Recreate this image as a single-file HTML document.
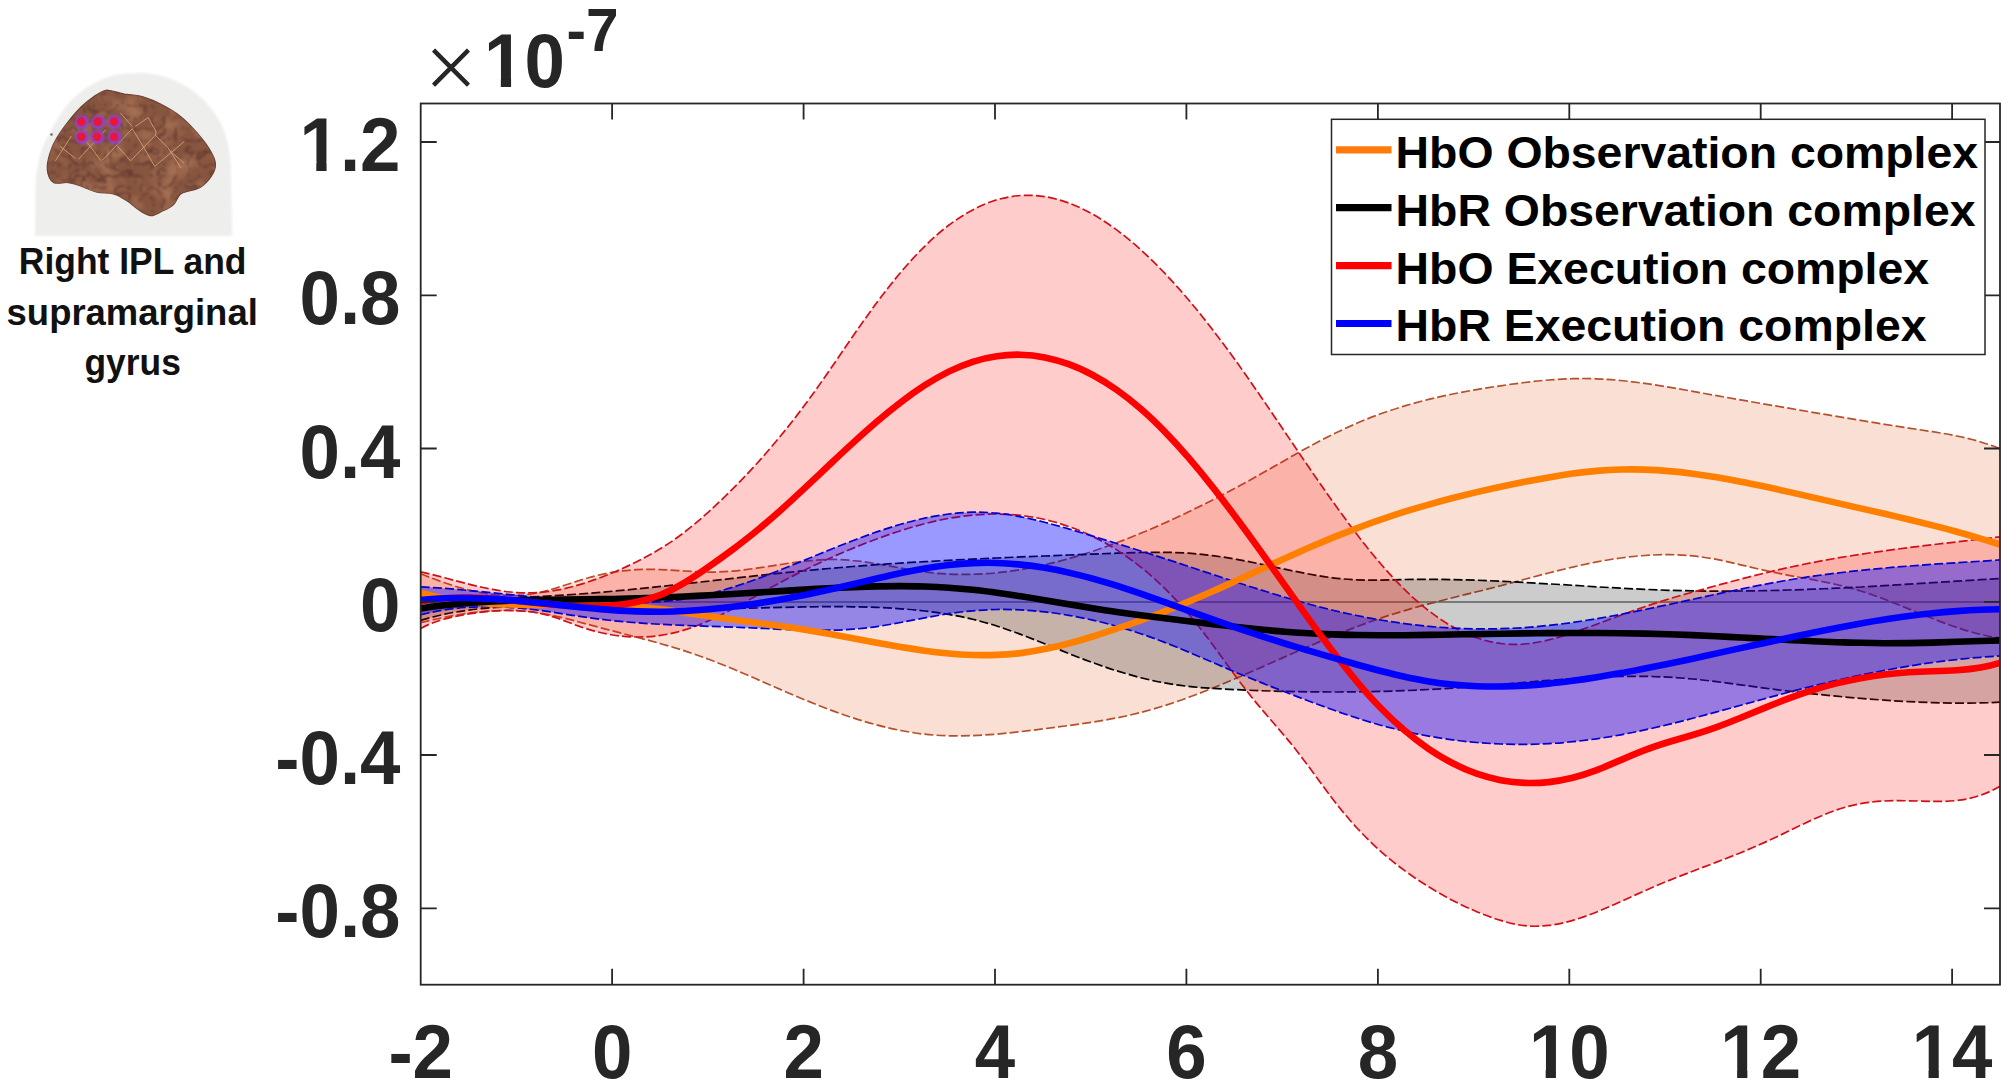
<!DOCTYPE html>
<html lang="en"><head><meta charset="utf-8"><title>Right IPL and supramarginal gyrus</title>
<style>
html,body{margin:0;padding:0;background:#fff;}
body{width:2008px;height:1088px;overflow:hidden;}
svg{display:block;}
text{font-family:"Liberation Sans",sans-serif;}
.tk{font-weight:bold;font-size:75.7px;fill:#262626;}
.lg{font-weight:bold;font-size:45px;fill:#000;}
.cap{font-weight:bold;font-size:36.7px;fill:#111;}
</style></head><body>
<svg width="2008" height="1088" viewBox="0 0 2008 1088">
<rect width="2008" height="1088" fill="#fff"/>
<defs>
<filter id="soft" x="-5%" y="-5%" width="110%" height="110%"><feGaussianBlur stdDeviation="1.3"/></filter>
<filter id="soft2" x="-5%" y="-5%" width="110%" height="110%"><feGaussianBlur stdDeviation="0.7"/></filter>
<filter id="dotb" x="-30%" y="-30%" width="160%" height="160%"><feGaussianBlur stdDeviation="0.9"/></filter>
<filter id="gyri" x="0" y="0" width="100%" height="100%" color-interpolation-filters="sRGB">
<feTurbulence type="turbulence" baseFrequency="0.085" numOctaves="2" seed="11" result="n"/>
<feColorMatrix in="n" type="matrix" values="0 0 0 0 0.35  0 0 0 0 0.2  0 0 0 0 0.17  -5.5 0 0 0 0.95"/>
<feGaussianBlur stdDeviation="0.8"/>
</filter>
<filter id="gyri2" x="0" y="0" width="100%" height="100%" color-interpolation-filters="sRGB">
<feTurbulence type="fractalNoise" baseFrequency="0.05" numOctaves="2" seed="3" result="n"/>
<feColorMatrix in="n" type="matrix" values="0 0 0 0 0.64  0 0 0 0 0.43  0 0 0 0 0.32  3 0 0 0 -1.25"/>
<feGaussianBlur stdDeviation="0.8"/>
</filter>
<clipPath id="bclip"><path id="bshape" d="M106.9 90.1C113 90.5 118 93 124.6 94.1C131 95 136 95 142.2 96.5C149 98.5 155 101 161.5 104.6C168 108 175 112 180.8 116.6C187 121.5 192 127 196.9 132.7C201 137.5 205 142 208.2 147.2C211.5 152.5 215 158 215.4 163.3C215.8 168 214 172.5 211.4 176.2C208.5 180.5 205 184.5 200.1 187.4C194.5 190.5 186 191 180.8 193.9C177.5 196.5 177 200.5 174.4 203.5C171 207.5 166 209.5 161.5 211.5C158 213.3 154 216.2 150.3 215.6C146 214.8 142.5 212.5 139 210C134.5 206.8 130.5 203 126.2 200.3C122 197.6 118 195 113.3 193.9C108 192.7 102.5 193.3 97.2 192.2C92.5 191.2 88.5 189 84.3 187.4C79 185.4 73.5 183.2 68.3 182.6C63.5 182 58 184.5 53.8 182.6C49.5 180.3 47.8 174.5 47.3 169.7C46.8 164.5 48.2 158.8 49.8 153.6C51.5 148 54 142.5 57 137.6C60.3 132 64.3 126.6 68.3 121.5C72.3 116.5 76.5 111.5 81.1 107C85 103.2 89.5 99.5 94 96.5C98 94 102.5 90.5 106.9 90.1Z"/></clipPath>
</defs>
<g id="brain">
<path d="M35 236L35.5 190C35.8 178 36.5 172 37.7 166.5C40 153 44 143 49 134.3C53 126 57.5 118 63.4 110C69.5 101.5 76 95 84.3 89.3C92 84 100 79.5 110 76.4C118 74 125 73.2 132.6 73.2C138 73 143 73 148 73.2C157 74.5 165 76.5 172.8 79.7C182 83.5 190 88 197 94C205.5 101 212 109 217.8 118C222.5 126 225.5 134 227.5 142.4C229.5 150 230.3 158 230.7 166.5L232.3 236Z" fill="#eeeeec" filter="url(#soft)"/>
<g filter="url(#soft2)">
<use href="#bshape" fill="#87553f" stroke="#6b4336" stroke-width="1.2"/>
<g clip-path="url(#bclip)">
<rect x="40" y="85" width="185" height="135" filter="url(#gyri2)"/>
<rect x="40" y="85" width="185" height="135" filter="url(#gyri)"/>
<g stroke="#e0a982" stroke-width="0.9" fill="none" opacity="0.85">
<path d="M55.4 160.8L71.4 136M78.6 159.2L105.8 129.6M102.6 160L132.2 128.8M130.6 160.8L155.4 135.2M154.6 166.4L184.2 141.6M135.4 126.4L148.2 117.6"/>
<path d="M60.2 146.4L75.4 158.4M86.6 141.6L101 160.8M120.2 112.8L132.2 126.4M117 145.6L130.6 160.8M132.2 128.8L144.2 148L154.6 166.4M148.2 117.6L156.2 132L155.4 135.2L168.2 148L181 168M170 151L184 163"/>
</g>
</g>
<g fill="#9040d0" opacity="0.95" filter="url(#dotb)"><circle cx="82" cy="122" r="6.9"/><circle cx="98.2" cy="122" r="6.9"/><circle cx="114.6" cy="122" r="6.9"/><circle cx="82" cy="137.2" r="6.9"/><circle cx="97.4" cy="137.2" r="6.9"/><circle cx="114.6" cy="137.2" r="6.9"/></g>
<g fill="#e8153a" filter="url(#soft2)"><circle cx="81.4" cy="121.6" r="4.3"/><circle cx="97.8" cy="121.6" r="4.3"/><circle cx="114.2" cy="121.6" r="4.3"/><circle cx="81.4" cy="136.8" r="4.3"/><circle cx="97" cy="136.8" r="4.3"/><circle cx="114.2" cy="136.8" r="4.3"/></g>
<circle cx="51.5" cy="134.5" r="1.2" fill="#667"/>
</g>
</g>
<defs><clipPath id="ax"><rect x="420.7" y="103.5" width="1579.3" height="881.2"/></clipPath></defs>
<g clip-path="url(#ax)">
<line x1="420.7" y1="602" x2="2000.0" y2="602" stroke="#333" stroke-width="1.2"/>
<path d="M420.7 573.7C428.7 577.0 436.7 580.1 444.7 582.8C452.7 585.6 460.7 588.0 468.7 590.0C476.7 592.0 484.7 593.6 492.7 594.5C500.7 595.5 508.7 595.9 516.7 595.5C524.7 595.2 532.7 594.1 540.7 592.3C548.7 590.4 556.7 587.9 564.7 585.3C572.7 582.7 580.7 580.0 588.7 577.7C596.7 575.4 604.7 573.5 612.7 572.2C620.7 570.9 628.7 570.1 636.7 569.7C644.7 569.3 652.7 569.3 660.7 569.6C668.7 569.9 676.7 570.5 684.7 571.0C692.7 571.6 700.7 572.0 708.7 572.1C716.7 572.2 724.7 571.8 732.7 571.1C740.7 570.4 748.7 569.3 756.7 568.2C764.7 567.0 772.7 565.7 780.7 564.5C788.7 563.2 796.7 562.1 804.7 561.2C812.7 560.3 820.7 559.7 828.7 559.5C836.7 559.3 844.7 559.7 852.7 560.5C860.7 561.2 868.7 562.4 876.7 563.8C884.7 565.1 892.7 566.6 900.7 568.1C908.7 569.5 916.7 570.9 924.7 571.9C932.7 573.0 940.7 573.7 948.7 574.1C956.7 574.5 964.7 574.6 972.7 574.3C980.7 574.1 988.7 573.6 996.7 572.8C1004.7 572.0 1012.7 570.9 1020.7 569.6C1028.7 568.2 1036.7 566.6 1044.7 564.8C1052.7 563.0 1060.7 560.9 1068.7 558.7C1076.7 556.4 1084.7 554.0 1092.7 551.3C1100.7 548.6 1108.7 545.8 1116.7 542.8C1124.7 539.8 1132.7 536.6 1140.7 533.3C1148.7 530.0 1156.7 526.6 1164.7 523.0C1172.7 519.4 1180.7 515.7 1188.7 511.8C1196.7 508.0 1204.7 504.0 1212.7 499.9C1220.7 495.9 1228.7 491.7 1236.7 487.4C1244.7 483.1 1252.7 478.6 1260.7 474.1C1268.7 469.6 1276.7 465.0 1284.7 460.4C1292.7 455.8 1300.7 451.3 1308.7 446.9C1316.7 442.5 1324.7 438.3 1332.7 434.4C1340.7 430.5 1348.7 426.8 1356.7 423.3C1364.7 419.9 1372.7 416.7 1380.7 413.8C1388.7 410.9 1396.7 408.3 1404.7 405.9C1412.7 403.5 1420.7 401.4 1428.7 399.4C1436.7 397.4 1444.7 395.7 1452.7 394.0C1460.7 392.4 1468.7 390.9 1476.7 389.6C1484.7 388.2 1492.7 386.9 1500.7 385.8C1508.7 384.6 1516.7 383.4 1524.7 382.5C1532.7 381.5 1540.7 380.6 1548.7 380.0C1556.7 379.3 1564.7 378.9 1572.7 378.7C1580.7 378.4 1588.7 378.5 1596.7 378.8C1604.7 379.1 1612.7 379.7 1620.7 380.5C1628.7 381.3 1636.7 382.3 1644.7 383.4C1652.7 384.5 1660.7 385.8 1668.7 387.1C1676.7 388.5 1684.7 389.9 1692.7 391.3C1700.7 392.8 1708.7 394.2 1716.7 395.7C1724.7 397.1 1732.7 398.5 1740.7 399.9C1748.7 401.3 1756.7 402.7 1764.7 404.1C1772.7 405.4 1780.7 406.8 1788.7 408.2C1796.7 409.6 1804.7 410.9 1812.7 412.3C1820.7 413.7 1828.7 415.0 1836.7 416.4C1844.7 417.7 1852.7 419.1 1860.7 420.4C1868.7 421.7 1876.7 423.0 1884.7 424.3C1892.7 425.6 1900.7 426.8 1908.7 428.1C1916.7 429.3 1924.7 430.5 1932.7 431.7C1940.7 433.0 1948.7 434.3 1956.7 436.0C1964.7 437.6 1972.7 439.5 1980.7 442.0C1987.1 443.9 1993.6 446.1 2000.0 448.8L2000.0 638.1C1993.6 637.2 1987.1 636.0 1980.7 634.4C1972.7 632.5 1964.7 630.1 1956.7 627.4C1948.7 624.7 1940.7 621.7 1932.7 618.5C1924.7 615.4 1916.7 612.1 1908.7 608.9C1900.7 605.6 1892.7 602.4 1884.7 599.3C1876.7 596.3 1868.7 593.5 1860.7 591.0C1852.7 588.5 1844.7 586.4 1836.7 584.6C1828.7 582.8 1820.7 581.2 1812.7 579.7C1804.7 578.2 1796.7 576.8 1788.7 575.3C1780.7 573.8 1772.7 572.2 1764.7 570.4C1756.7 568.7 1748.7 566.7 1740.7 564.8C1732.7 562.8 1724.7 561.0 1716.7 559.4C1708.7 557.9 1700.7 556.7 1692.7 555.9C1684.7 555.1 1676.7 554.7 1668.7 554.7C1660.7 554.6 1652.7 554.9 1644.7 555.5C1636.7 556.0 1628.7 556.9 1620.7 558.0C1612.7 559.1 1604.7 560.4 1596.7 561.9C1588.7 563.5 1580.7 565.2 1572.7 567.1C1564.7 568.9 1556.7 570.9 1548.7 573.0C1540.7 575.0 1532.7 577.2 1524.7 579.3C1516.7 581.4 1508.7 583.6 1500.7 585.7C1492.7 587.8 1484.7 589.8 1476.7 591.8C1468.7 593.8 1460.7 595.7 1452.7 597.7C1444.7 599.7 1436.7 601.8 1428.7 603.9C1420.7 606.0 1412.7 608.2 1404.7 610.6C1396.7 612.9 1388.7 615.4 1380.7 618.1C1372.7 620.8 1364.7 623.7 1356.7 626.7C1348.7 629.7 1340.7 632.9 1332.7 636.2C1324.7 639.5 1316.7 642.9 1308.7 646.4C1300.7 649.9 1292.7 653.4 1284.7 656.9C1276.7 660.5 1268.7 664.0 1260.7 667.6C1252.7 671.1 1244.7 674.6 1236.7 678.0C1228.7 681.5 1220.7 684.8 1212.7 688.1C1204.7 691.3 1196.7 694.4 1188.7 697.3C1180.7 700.3 1172.7 703.0 1164.7 705.6C1156.7 708.1 1148.7 710.4 1140.7 712.5C1132.7 714.5 1124.7 716.3 1116.7 717.9C1108.7 719.5 1100.7 720.8 1092.7 722.1C1084.7 723.3 1076.7 724.5 1068.7 725.5C1060.7 726.6 1052.7 727.6 1044.7 728.7C1036.7 729.7 1028.7 730.7 1020.7 731.6C1012.7 732.6 1004.7 733.4 996.7 734.1C988.7 734.8 980.7 735.3 972.7 735.6C964.7 735.9 956.7 736.0 948.7 735.8C940.7 735.6 932.7 735.1 924.7 734.2C916.7 733.3 908.7 732.0 900.7 730.5C892.7 728.9 884.7 727.1 876.7 724.9C868.7 722.8 860.7 720.4 852.7 717.8C844.7 715.2 836.7 712.4 828.7 709.3C820.7 706.3 812.7 703.1 804.7 699.8C796.7 696.5 788.7 693.1 780.7 689.6C772.7 686.1 764.7 682.6 756.7 679.1C748.7 675.6 740.7 672.1 732.7 668.8C724.7 665.5 716.7 662.3 708.7 659.3C700.7 656.3 692.7 653.5 684.7 650.9C676.7 648.3 668.7 645.9 660.7 643.7C652.7 641.4 644.7 639.3 636.7 637.2C628.7 635.1 620.7 633.0 612.7 630.9C604.7 628.9 596.7 626.7 588.7 624.6C580.7 622.4 572.7 620.2 564.7 618.2C556.7 616.3 548.7 614.5 540.7 613.2C532.7 611.9 524.7 611.1 516.7 610.7C508.7 610.3 500.7 610.4 492.7 610.9C484.7 611.3 476.7 612.1 468.7 613.2C460.7 614.3 452.7 615.7 444.7 617.3C436.7 618.9 428.7 620.7 420.7 622.6Z" fill="rgb(225,95,40)" fill-opacity="0.2" stroke="none"/>
<path d="M420.7 573.7C428.7 577.0 436.7 580.1 444.7 582.8C452.7 585.6 460.7 588.0 468.7 590.0C476.7 592.0 484.7 593.6 492.7 594.5C500.7 595.5 508.7 595.9 516.7 595.5C524.7 595.2 532.7 594.1 540.7 592.3C548.7 590.4 556.7 587.9 564.7 585.3C572.7 582.7 580.7 580.0 588.7 577.7C596.7 575.4 604.7 573.5 612.7 572.2C620.7 570.9 628.7 570.1 636.7 569.7C644.7 569.3 652.7 569.3 660.7 569.6C668.7 569.9 676.7 570.5 684.7 571.0C692.7 571.6 700.7 572.0 708.7 572.1C716.7 572.2 724.7 571.8 732.7 571.1C740.7 570.4 748.7 569.3 756.7 568.2C764.7 567.0 772.7 565.7 780.7 564.5C788.7 563.2 796.7 562.1 804.7 561.2C812.7 560.3 820.7 559.7 828.7 559.5C836.7 559.3 844.7 559.7 852.7 560.5C860.7 561.2 868.7 562.4 876.7 563.8C884.7 565.1 892.7 566.6 900.7 568.1C908.7 569.5 916.7 570.9 924.7 571.9C932.7 573.0 940.7 573.7 948.7 574.1C956.7 574.5 964.7 574.6 972.7 574.3C980.7 574.1 988.7 573.6 996.7 572.8C1004.7 572.0 1012.7 570.9 1020.7 569.6C1028.7 568.2 1036.7 566.6 1044.7 564.8C1052.7 563.0 1060.7 560.9 1068.7 558.7C1076.7 556.4 1084.7 554.0 1092.7 551.3C1100.7 548.6 1108.7 545.8 1116.7 542.8C1124.7 539.8 1132.7 536.6 1140.7 533.3C1148.7 530.0 1156.7 526.6 1164.7 523.0C1172.7 519.4 1180.7 515.7 1188.7 511.8C1196.7 508.0 1204.7 504.0 1212.7 499.9C1220.7 495.9 1228.7 491.7 1236.7 487.4C1244.7 483.1 1252.7 478.6 1260.7 474.1C1268.7 469.6 1276.7 465.0 1284.7 460.4C1292.7 455.8 1300.7 451.3 1308.7 446.9C1316.7 442.5 1324.7 438.3 1332.7 434.4C1340.7 430.5 1348.7 426.8 1356.7 423.3C1364.7 419.9 1372.7 416.7 1380.7 413.8C1388.7 410.9 1396.7 408.3 1404.7 405.9C1412.7 403.5 1420.7 401.4 1428.7 399.4C1436.7 397.4 1444.7 395.7 1452.7 394.0C1460.7 392.4 1468.7 390.9 1476.7 389.6C1484.7 388.2 1492.7 386.9 1500.7 385.8C1508.7 384.6 1516.7 383.4 1524.7 382.5C1532.7 381.5 1540.7 380.6 1548.7 380.0C1556.7 379.3 1564.7 378.9 1572.7 378.7C1580.7 378.4 1588.7 378.5 1596.7 378.8C1604.7 379.1 1612.7 379.7 1620.7 380.5C1628.7 381.3 1636.7 382.3 1644.7 383.4C1652.7 384.5 1660.7 385.8 1668.7 387.1C1676.7 388.5 1684.7 389.9 1692.7 391.3C1700.7 392.8 1708.7 394.2 1716.7 395.7C1724.7 397.1 1732.7 398.5 1740.7 399.9C1748.7 401.3 1756.7 402.7 1764.7 404.1C1772.7 405.4 1780.7 406.8 1788.7 408.2C1796.7 409.6 1804.7 410.9 1812.7 412.3C1820.7 413.7 1828.7 415.0 1836.7 416.4C1844.7 417.7 1852.7 419.1 1860.7 420.4C1868.7 421.7 1876.7 423.0 1884.7 424.3C1892.7 425.6 1900.7 426.8 1908.7 428.1C1916.7 429.3 1924.7 430.5 1932.7 431.7C1940.7 433.0 1948.7 434.3 1956.7 436.0C1964.7 437.6 1972.7 439.5 1980.7 442.0C1987.1 443.9 1993.6 446.1 2000.0 448.8" fill="none" stroke="#b5502d" stroke-width="1.7" stroke-dasharray="9 3.2"/>
<path d="M420.7 622.6C428.7 620.7 436.7 618.9 444.7 617.3C452.7 615.7 460.7 614.3 468.7 613.2C476.7 612.1 484.7 611.3 492.7 610.9C500.7 610.4 508.7 610.3 516.7 610.7C524.7 611.1 532.7 611.9 540.7 613.2C548.7 614.5 556.7 616.3 564.7 618.2C572.7 620.2 580.7 622.4 588.7 624.6C596.7 626.7 604.7 628.9 612.7 630.9C620.7 633.0 628.7 635.1 636.7 637.2C644.7 639.3 652.7 641.4 660.7 643.7C668.7 645.9 676.7 648.3 684.7 650.9C692.7 653.5 700.7 656.3 708.7 659.3C716.7 662.3 724.7 665.5 732.7 668.8C740.7 672.1 748.7 675.6 756.7 679.1C764.7 682.6 772.7 686.1 780.7 689.6C788.7 693.1 796.7 696.5 804.7 699.8C812.7 703.1 820.7 706.3 828.7 709.3C836.7 712.4 844.7 715.2 852.7 717.8C860.7 720.4 868.7 722.8 876.7 724.9C884.7 727.1 892.7 728.9 900.7 730.5C908.7 732.0 916.7 733.3 924.7 734.2C932.7 735.1 940.7 735.6 948.7 735.8C956.7 736.0 964.7 735.9 972.7 735.6C980.7 735.3 988.7 734.8 996.7 734.1C1004.7 733.4 1012.7 732.6 1020.7 731.6C1028.7 730.7 1036.7 729.7 1044.7 728.7C1052.7 727.6 1060.7 726.6 1068.7 725.5C1076.7 724.5 1084.7 723.3 1092.7 722.1C1100.7 720.8 1108.7 719.5 1116.7 717.9C1124.7 716.3 1132.7 714.5 1140.7 712.5C1148.7 710.4 1156.7 708.1 1164.7 705.6C1172.7 703.0 1180.7 700.3 1188.7 697.3C1196.7 694.4 1204.7 691.3 1212.7 688.1C1220.7 684.8 1228.7 681.5 1236.7 678.0C1244.7 674.6 1252.7 671.1 1260.7 667.6C1268.7 664.0 1276.7 660.5 1284.7 656.9C1292.7 653.4 1300.7 649.9 1308.7 646.4C1316.7 642.9 1324.7 639.5 1332.7 636.2C1340.7 632.9 1348.7 629.7 1356.7 626.7C1364.7 623.7 1372.7 620.8 1380.7 618.1C1388.7 615.4 1396.7 612.9 1404.7 610.6C1412.7 608.2 1420.7 606.0 1428.7 603.9C1436.7 601.8 1444.7 599.7 1452.7 597.7C1460.7 595.7 1468.7 593.8 1476.7 591.8C1484.7 589.8 1492.7 587.8 1500.7 585.7C1508.7 583.6 1516.7 581.4 1524.7 579.3C1532.7 577.2 1540.7 575.0 1548.7 573.0C1556.7 570.9 1564.7 568.9 1572.7 567.1C1580.7 565.2 1588.7 563.5 1596.7 561.9C1604.7 560.4 1612.7 559.1 1620.7 558.0C1628.7 556.9 1636.7 556.0 1644.7 555.5C1652.7 554.9 1660.7 554.6 1668.7 554.7C1676.7 554.7 1684.7 555.1 1692.7 555.9C1700.7 556.7 1708.7 557.9 1716.7 559.4C1724.7 561.0 1732.7 562.8 1740.7 564.8C1748.7 566.7 1756.7 568.7 1764.7 570.4C1772.7 572.2 1780.7 573.8 1788.7 575.3C1796.7 576.8 1804.7 578.2 1812.7 579.7C1820.7 581.2 1828.7 582.8 1836.7 584.6C1844.7 586.4 1852.7 588.5 1860.7 591.0C1868.7 593.5 1876.7 596.3 1884.7 599.3C1892.7 602.4 1900.7 605.6 1908.7 608.9C1916.7 612.1 1924.7 615.4 1932.7 618.5C1940.7 621.7 1948.7 624.7 1956.7 627.4C1964.7 630.1 1972.7 632.5 1980.7 634.4C1987.1 636.0 1993.6 637.2 2000.0 638.1" fill="none" stroke="#b5502d" stroke-width="1.7" stroke-dasharray="9 3.2"/>
<path d="M420.7 596.1C428.7 596.6 436.7 597.0 444.7 597.4C452.7 597.7 460.7 597.9 468.7 598.0C476.7 598.1 484.7 598.1 492.7 598.0C500.7 597.9 508.7 597.7 516.7 597.5C524.7 597.2 532.7 596.9 540.7 596.5C548.7 596.1 556.7 595.6 564.7 595.1C572.7 594.5 580.7 593.9 588.7 593.3C596.7 592.7 604.7 592.0 612.7 591.2C620.7 590.5 628.7 589.7 636.7 588.9C644.7 588.1 652.7 587.3 660.7 586.4C668.7 585.6 676.7 584.7 684.7 583.8C692.7 582.9 700.7 582.0 708.7 581.1C716.7 580.2 724.7 579.3 732.7 578.4C740.7 577.5 748.7 576.6 756.7 575.7C764.7 574.8 772.7 574.0 780.7 573.1C788.7 572.3 796.7 571.5 804.7 570.7C812.7 570.0 820.7 569.2 828.7 568.5C836.7 567.8 844.7 567.2 852.7 566.5C860.7 565.9 868.7 565.3 876.7 564.7C884.7 564.2 892.7 563.6 900.7 563.1C908.7 562.6 916.7 562.1 924.7 561.7C932.7 561.2 940.7 560.7 948.7 560.3C956.7 559.9 964.7 559.5 972.7 559.1C980.7 558.7 988.7 558.3 996.7 558.0C1004.7 557.6 1012.7 557.3 1020.7 556.9C1028.7 556.6 1036.7 556.3 1044.7 556.0C1052.7 555.7 1060.7 555.3 1068.7 555.0C1076.7 554.7 1084.7 554.4 1092.7 554.1C1100.7 553.8 1108.7 553.5 1116.7 553.2C1124.7 552.9 1132.7 552.7 1140.7 552.5C1148.7 552.3 1156.7 552.3 1164.7 552.3C1172.7 552.4 1180.7 552.7 1188.7 553.2C1196.7 553.8 1204.7 554.6 1212.7 555.6C1220.7 556.7 1228.7 557.9 1236.7 559.4C1244.7 560.8 1252.7 562.4 1260.7 564.1C1268.7 565.8 1276.7 567.5 1284.7 569.2C1292.7 570.9 1300.7 572.5 1308.7 574.0C1316.7 575.5 1324.7 576.8 1332.7 577.8C1340.7 578.8 1348.7 579.5 1356.7 579.8C1364.7 580.1 1372.7 580.2 1380.7 580.1C1388.7 579.9 1396.7 579.7 1404.7 579.5C1412.7 579.4 1420.7 579.3 1428.7 579.3C1436.7 579.3 1444.7 579.4 1452.7 579.6C1460.7 579.7 1468.7 580.0 1476.7 580.2C1484.7 580.5 1492.7 580.9 1500.7 581.2C1508.7 581.6 1516.7 582.0 1524.7 582.5C1532.7 582.9 1540.7 583.4 1548.7 583.9C1556.7 584.3 1564.7 584.8 1572.7 585.3C1580.7 585.8 1588.7 586.3 1596.7 586.8C1604.7 587.3 1612.7 587.7 1620.7 588.2C1628.7 588.6 1636.7 589.0 1644.7 589.3C1652.7 589.7 1660.7 590.0 1668.7 590.3C1676.7 590.5 1684.7 590.7 1692.7 590.8C1700.7 591.0 1708.7 591.1 1716.7 591.1C1724.7 591.1 1732.7 591.1 1740.7 591.0C1748.7 590.9 1756.7 590.8 1764.7 590.6C1772.7 590.5 1780.7 590.3 1788.7 590.0C1796.7 589.8 1804.7 589.5 1812.7 589.2C1820.7 588.9 1828.7 588.5 1836.7 588.2C1844.7 587.8 1852.7 587.4 1860.7 587.0C1868.7 586.5 1876.7 586.1 1884.7 585.6C1892.7 585.2 1900.7 584.7 1908.7 584.2C1916.7 583.7 1924.7 583.2 1932.7 582.7C1940.7 582.2 1948.7 581.7 1956.7 581.2C1964.7 580.7 1972.7 580.2 1980.7 579.7C1987.1 579.3 1993.6 578.9 2000.0 578.5L2000.0 702.2C1993.6 702.6 1987.1 702.8 1980.7 702.9C1972.7 703.1 1964.7 703.1 1956.7 703.1C1948.7 703.0 1940.7 702.9 1932.7 702.6C1924.7 702.4 1916.7 702.0 1908.7 701.6C1900.7 701.2 1892.7 700.7 1884.7 700.2C1876.7 699.6 1868.7 699.0 1860.7 698.3C1852.7 697.7 1844.7 697.0 1836.7 696.2C1828.7 695.5 1820.7 694.7 1812.7 693.8C1804.7 693.0 1796.7 692.1 1788.7 691.1C1780.7 690.2 1772.7 689.2 1764.7 688.1C1756.7 687.1 1748.7 686.0 1740.7 684.9C1732.7 683.8 1724.7 682.7 1716.7 681.7C1708.7 680.7 1700.7 679.8 1692.7 679.0C1684.7 678.2 1676.7 677.6 1668.7 677.2C1660.7 676.7 1652.7 676.5 1644.7 676.4C1636.7 676.3 1628.7 676.3 1620.7 676.5C1612.7 676.6 1604.7 676.9 1596.7 677.3C1588.7 677.6 1580.7 678.1 1572.7 678.6C1564.7 679.2 1556.7 679.8 1548.7 680.4C1540.7 681.0 1532.7 681.7 1524.7 682.4C1516.7 683.1 1508.7 683.8 1500.7 684.5C1492.7 685.2 1484.7 685.8 1476.7 686.4C1468.7 687.1 1460.7 687.6 1452.7 688.2C1444.7 688.7 1436.7 689.1 1428.7 689.5C1420.7 689.9 1412.7 690.3 1404.7 690.6C1396.7 690.9 1388.7 691.2 1380.7 691.4C1372.7 691.6 1364.7 691.7 1356.7 691.8C1348.7 691.9 1340.7 692.0 1332.7 692.0C1324.7 692.0 1316.7 691.9 1308.7 691.8C1300.7 691.7 1292.7 691.6 1284.7 691.4C1276.7 691.2 1268.7 691.0 1260.7 690.7C1252.7 690.4 1244.7 690.1 1236.7 689.7C1228.7 689.3 1220.7 688.9 1212.7 688.4C1204.7 687.9 1196.7 687.3 1188.7 686.4C1180.7 685.5 1172.7 684.4 1164.7 682.9C1156.7 681.5 1148.7 679.7 1140.7 677.7C1132.7 675.6 1124.7 673.3 1116.7 670.8C1108.7 668.3 1100.7 665.6 1092.7 662.6C1084.7 659.7 1076.7 656.7 1068.7 653.5C1060.7 650.3 1052.7 647.0 1044.7 643.8C1036.7 640.6 1028.7 637.4 1020.7 634.4C1012.7 631.4 1004.7 628.5 996.7 626.0C988.7 623.4 980.7 621.2 972.7 619.3C964.7 617.3 956.7 615.7 948.7 614.4C940.7 613.0 932.7 611.9 924.7 611.0C916.7 610.1 908.7 609.3 900.7 608.8C892.7 608.2 884.7 607.7 876.7 607.4C868.7 607.1 860.7 606.9 852.7 606.8C844.7 606.7 836.7 606.6 828.7 606.7C820.7 606.7 812.7 606.8 804.7 606.9C796.7 607.1 788.7 607.3 780.7 607.4C772.7 607.6 764.7 607.8 756.7 608.0C748.7 608.2 740.7 608.3 732.7 608.5C724.7 608.6 716.7 608.7 708.7 608.8C700.7 608.9 692.7 609.0 684.7 609.0C676.7 609.0 668.7 609.0 660.7 609.0C652.7 608.9 644.7 608.8 636.7 608.7C628.7 608.6 620.7 608.5 612.7 608.3C604.7 608.1 596.7 607.9 588.7 607.6C580.7 607.3 572.7 607.1 564.7 606.9C556.7 606.6 548.7 606.4 540.7 606.4C532.7 606.3 524.7 606.3 516.7 606.5C508.7 606.7 500.7 607.1 492.7 607.6C484.7 608.2 476.7 609.0 468.7 610.1C460.7 611.2 452.7 612.5 444.7 614.2C436.7 615.9 428.7 618.0 420.7 620.4Z" fill="#000" fill-opacity="0.2" stroke="none"/>
<path d="M420.7 596.1C428.7 596.6 436.7 597.0 444.7 597.4C452.7 597.7 460.7 597.9 468.7 598.0C476.7 598.1 484.7 598.1 492.7 598.0C500.7 597.9 508.7 597.7 516.7 597.5C524.7 597.2 532.7 596.9 540.7 596.5C548.7 596.1 556.7 595.6 564.7 595.1C572.7 594.5 580.7 593.9 588.7 593.3C596.7 592.7 604.7 592.0 612.7 591.2C620.7 590.5 628.7 589.7 636.7 588.9C644.7 588.1 652.7 587.3 660.7 586.4C668.7 585.6 676.7 584.7 684.7 583.8C692.7 582.9 700.7 582.0 708.7 581.1C716.7 580.2 724.7 579.3 732.7 578.4C740.7 577.5 748.7 576.6 756.7 575.7C764.7 574.8 772.7 574.0 780.7 573.1C788.7 572.3 796.7 571.5 804.7 570.7C812.7 570.0 820.7 569.2 828.7 568.5C836.7 567.8 844.7 567.2 852.7 566.5C860.7 565.9 868.7 565.3 876.7 564.7C884.7 564.2 892.7 563.6 900.7 563.1C908.7 562.6 916.7 562.1 924.7 561.7C932.7 561.2 940.7 560.7 948.7 560.3C956.7 559.9 964.7 559.5 972.7 559.1C980.7 558.7 988.7 558.3 996.7 558.0C1004.7 557.6 1012.7 557.3 1020.7 556.9C1028.7 556.6 1036.7 556.3 1044.7 556.0C1052.7 555.7 1060.7 555.3 1068.7 555.0C1076.7 554.7 1084.7 554.4 1092.7 554.1C1100.7 553.8 1108.7 553.5 1116.7 553.2C1124.7 552.9 1132.7 552.7 1140.7 552.5C1148.7 552.3 1156.7 552.3 1164.7 552.3C1172.7 552.4 1180.7 552.7 1188.7 553.2C1196.7 553.8 1204.7 554.6 1212.7 555.6C1220.7 556.7 1228.7 557.9 1236.7 559.4C1244.7 560.8 1252.7 562.4 1260.7 564.1C1268.7 565.8 1276.7 567.5 1284.7 569.2C1292.7 570.9 1300.7 572.5 1308.7 574.0C1316.7 575.5 1324.7 576.8 1332.7 577.8C1340.7 578.8 1348.7 579.5 1356.7 579.8C1364.7 580.1 1372.7 580.2 1380.7 580.1C1388.7 579.9 1396.7 579.7 1404.7 579.5C1412.7 579.4 1420.7 579.3 1428.7 579.3C1436.7 579.3 1444.7 579.4 1452.7 579.6C1460.7 579.7 1468.7 580.0 1476.7 580.2C1484.7 580.5 1492.7 580.9 1500.7 581.2C1508.7 581.6 1516.7 582.0 1524.7 582.5C1532.7 582.9 1540.7 583.4 1548.7 583.9C1556.7 584.3 1564.7 584.8 1572.7 585.3C1580.7 585.8 1588.7 586.3 1596.7 586.8C1604.7 587.3 1612.7 587.7 1620.7 588.2C1628.7 588.6 1636.7 589.0 1644.7 589.3C1652.7 589.7 1660.7 590.0 1668.7 590.3C1676.7 590.5 1684.7 590.7 1692.7 590.8C1700.7 591.0 1708.7 591.1 1716.7 591.1C1724.7 591.1 1732.7 591.1 1740.7 591.0C1748.7 590.9 1756.7 590.8 1764.7 590.6C1772.7 590.5 1780.7 590.3 1788.7 590.0C1796.7 589.8 1804.7 589.5 1812.7 589.2C1820.7 588.9 1828.7 588.5 1836.7 588.2C1844.7 587.8 1852.7 587.4 1860.7 587.0C1868.7 586.5 1876.7 586.1 1884.7 585.6C1892.7 585.2 1900.7 584.7 1908.7 584.2C1916.7 583.7 1924.7 583.2 1932.7 582.7C1940.7 582.2 1948.7 581.7 1956.7 581.2C1964.7 580.7 1972.7 580.2 1980.7 579.7C1987.1 579.3 1993.6 578.9 2000.0 578.5" fill="none" stroke="#000" stroke-width="1.7" stroke-dasharray="9 3.2"/>
<path d="M420.7 620.4C428.7 618.0 436.7 615.9 444.7 614.2C452.7 612.5 460.7 611.2 468.7 610.1C476.7 609.0 484.7 608.2 492.7 607.6C500.7 607.1 508.7 606.7 516.7 606.5C524.7 606.3 532.7 606.3 540.7 606.4C548.7 606.4 556.7 606.6 564.7 606.9C572.7 607.1 580.7 607.3 588.7 607.6C596.7 607.9 604.7 608.1 612.7 608.3C620.7 608.5 628.7 608.6 636.7 608.7C644.7 608.8 652.7 608.9 660.7 609.0C668.7 609.0 676.7 609.0 684.7 609.0C692.7 609.0 700.7 608.9 708.7 608.8C716.7 608.7 724.7 608.6 732.7 608.5C740.7 608.3 748.7 608.2 756.7 608.0C764.7 607.8 772.7 607.6 780.7 607.4C788.7 607.3 796.7 607.1 804.7 606.9C812.7 606.8 820.7 606.7 828.7 606.7C836.7 606.6 844.7 606.7 852.7 606.8C860.7 606.9 868.7 607.1 876.7 607.4C884.7 607.7 892.7 608.2 900.7 608.8C908.7 609.3 916.7 610.1 924.7 611.0C932.7 611.9 940.7 613.0 948.7 614.4C956.7 615.7 964.7 617.3 972.7 619.3C980.7 621.2 988.7 623.4 996.7 626.0C1004.7 628.5 1012.7 631.4 1020.7 634.4C1028.7 637.4 1036.7 640.6 1044.7 643.8C1052.7 647.0 1060.7 650.3 1068.7 653.5C1076.7 656.7 1084.7 659.7 1092.7 662.6C1100.7 665.6 1108.7 668.3 1116.7 670.8C1124.7 673.3 1132.7 675.6 1140.7 677.7C1148.7 679.7 1156.7 681.5 1164.7 682.9C1172.7 684.4 1180.7 685.5 1188.7 686.4C1196.7 687.3 1204.7 687.9 1212.7 688.4C1220.7 688.9 1228.7 689.3 1236.7 689.7C1244.7 690.1 1252.7 690.4 1260.7 690.7C1268.7 691.0 1276.7 691.2 1284.7 691.4C1292.7 691.6 1300.7 691.7 1308.7 691.8C1316.7 691.9 1324.7 692.0 1332.7 692.0C1340.7 692.0 1348.7 691.9 1356.7 691.8C1364.7 691.7 1372.7 691.6 1380.7 691.4C1388.7 691.2 1396.7 690.9 1404.7 690.6C1412.7 690.3 1420.7 689.9 1428.7 689.5C1436.7 689.1 1444.7 688.7 1452.7 688.2C1460.7 687.6 1468.7 687.1 1476.7 686.4C1484.7 685.8 1492.7 685.2 1500.7 684.5C1508.7 683.8 1516.7 683.1 1524.7 682.4C1532.7 681.7 1540.7 681.0 1548.7 680.4C1556.7 679.8 1564.7 679.2 1572.7 678.6C1580.7 678.1 1588.7 677.6 1596.7 677.3C1604.7 676.9 1612.7 676.6 1620.7 676.5C1628.7 676.3 1636.7 676.3 1644.7 676.4C1652.7 676.5 1660.7 676.7 1668.7 677.2C1676.7 677.6 1684.7 678.2 1692.7 679.0C1700.7 679.8 1708.7 680.7 1716.7 681.7C1724.7 682.7 1732.7 683.8 1740.7 684.9C1748.7 686.0 1756.7 687.1 1764.7 688.1C1772.7 689.2 1780.7 690.2 1788.7 691.1C1796.7 692.1 1804.7 693.0 1812.7 693.8C1820.7 694.7 1828.7 695.5 1836.7 696.2C1844.7 697.0 1852.7 697.7 1860.7 698.3C1868.7 699.0 1876.7 699.6 1884.7 700.2C1892.7 700.7 1900.7 701.2 1908.7 701.6C1916.7 702.0 1924.7 702.4 1932.7 702.6C1940.7 702.9 1948.7 703.0 1956.7 703.1C1964.7 703.1 1972.7 703.1 1980.7 702.9C1987.1 702.8 1993.6 702.6 2000.0 702.2" fill="none" stroke="#000" stroke-width="1.7" stroke-dasharray="9 3.2"/>
<path d="M420.7 571.8C428.7 573.7 436.7 575.7 444.7 577.8C452.7 580.0 460.7 582.1 468.7 584.1C476.7 586.1 484.7 588.0 492.7 589.4C500.7 590.9 508.7 592.0 516.7 592.6C524.7 593.1 532.7 593.1 540.7 592.4C548.7 591.7 556.7 590.4 564.7 588.6C572.7 586.8 580.7 584.5 588.7 581.8C596.7 579.2 604.7 576.1 612.7 572.7C620.7 569.3 628.7 565.6 636.7 561.7C644.7 557.7 652.7 553.4 660.7 548.5C668.7 543.6 676.7 538.2 684.7 532.0C692.7 525.8 700.7 519.0 708.7 511.8C716.7 504.5 724.7 496.9 732.7 488.9C740.7 480.9 748.7 472.5 756.7 463.7C764.7 454.8 772.7 445.6 780.7 435.8C788.7 426.1 796.7 415.9 804.7 405.1C812.7 394.4 820.7 383.1 828.7 371.5C836.7 359.9 844.7 348.1 852.7 336.5C860.7 324.9 868.7 313.6 876.7 302.8C884.7 292.0 892.7 281.9 900.7 272.4C908.7 262.9 916.7 254.2 924.7 246.3C932.7 238.4 940.7 231.4 948.7 225.3C956.7 219.3 964.7 214.1 972.7 209.9C980.7 205.6 988.7 202.3 996.7 199.9C1004.7 197.5 1012.7 196.1 1020.7 195.5C1028.7 195.0 1036.7 195.4 1044.7 196.6C1052.7 197.9 1060.7 200.1 1068.7 203.0C1076.7 206.0 1084.7 209.7 1092.7 214.2C1100.7 218.7 1108.7 224.0 1116.7 229.9C1124.7 235.9 1132.7 242.5 1140.7 249.7C1148.7 257.0 1156.7 264.8 1164.7 273.2C1172.7 281.6 1180.7 290.6 1188.7 300.0C1196.7 309.5 1204.7 319.4 1212.7 329.8C1220.7 340.2 1228.7 351.0 1236.7 362.1C1244.7 373.3 1252.7 384.8 1260.7 396.4C1268.7 408.1 1276.7 419.9 1284.7 431.7C1292.7 443.5 1300.7 455.4 1308.7 467.1C1316.7 478.8 1324.7 490.3 1332.7 501.5C1340.7 512.7 1348.7 523.6 1356.7 534.1C1364.7 544.5 1372.7 554.5 1380.7 563.8C1388.7 573.1 1396.7 581.7 1404.7 589.6C1412.7 597.5 1420.7 604.5 1428.7 610.7C1436.7 616.9 1444.7 622.3 1452.7 626.8C1460.7 631.3 1468.7 635.0 1476.7 637.8C1484.7 640.6 1492.7 642.5 1500.7 643.5C1508.7 644.6 1516.7 644.7 1524.7 644.0C1532.7 643.3 1540.7 641.9 1548.7 639.9C1556.7 638.0 1564.7 635.5 1572.7 632.8C1580.7 630.1 1588.7 627.1 1596.7 624.2C1604.7 621.2 1612.7 618.2 1620.7 615.3C1628.7 612.3 1636.7 609.4 1644.7 606.7C1652.7 604.0 1660.7 601.5 1668.7 599.0C1676.7 596.6 1684.7 594.3 1692.7 592.1C1700.7 589.9 1708.7 587.7 1716.7 585.5C1724.7 583.3 1732.7 581.2 1740.7 579.1C1748.7 577.1 1756.7 575.0 1764.7 573.1C1772.7 571.1 1780.7 569.3 1788.7 567.5C1796.7 565.8 1804.7 564.1 1812.7 562.5C1820.7 561.0 1828.7 559.5 1836.7 558.1C1844.7 556.8 1852.7 555.5 1860.7 554.3C1868.7 553.0 1876.7 551.9 1884.7 550.8C1892.7 549.7 1900.7 548.6 1908.7 547.6C1916.7 546.6 1924.7 545.6 1932.7 544.7C1940.7 543.7 1948.7 542.8 1956.7 541.9C1964.7 540.9 1972.7 540.0 1980.7 539.1C1987.1 538.4 1993.6 537.6 2000.0 536.9L2000.0 786.3C1993.6 790.0 1987.1 792.9 1980.7 795.2C1972.7 798.0 1964.7 799.7 1956.7 800.5C1948.7 801.4 1940.7 801.5 1932.7 801.4C1924.7 801.3 1916.7 800.9 1908.7 800.8C1900.7 800.6 1892.7 800.6 1884.7 801.0C1876.7 801.4 1868.7 802.2 1860.7 803.6C1852.7 805.1 1844.7 807.2 1836.7 809.9C1828.7 812.7 1820.7 816.0 1812.7 819.6C1804.7 823.3 1796.7 827.2 1788.7 831.1C1780.7 835.0 1772.7 838.8 1764.7 842.4C1756.7 846.0 1748.7 849.4 1740.7 852.7C1732.7 855.9 1724.7 859.0 1716.7 862.1C1708.7 865.2 1700.7 868.2 1692.7 871.2C1684.7 874.3 1676.7 877.4 1668.7 880.6C1660.7 883.8 1652.7 887.2 1644.7 890.8C1636.7 894.3 1628.7 898.0 1620.7 901.7C1612.7 905.3 1604.7 908.8 1596.7 912.0C1588.7 915.2 1580.7 918.1 1572.7 920.4C1564.7 922.7 1556.7 924.5 1548.7 925.4C1540.7 926.4 1532.7 926.6 1524.7 925.7C1516.7 924.8 1508.7 922.9 1500.7 920.4C1492.7 918.0 1484.7 915.1 1476.7 911.7C1468.7 908.4 1460.7 904.6 1452.7 900.5C1444.7 896.3 1436.7 891.7 1428.7 886.8C1420.7 881.8 1412.7 876.5 1404.7 870.6C1396.7 864.8 1388.7 858.4 1380.7 851.3C1372.7 844.1 1364.7 836.3 1356.7 827.7C1348.7 819.0 1340.7 809.4 1332.7 799.0C1324.7 788.5 1316.7 777.4 1308.7 766.6C1300.7 755.8 1292.7 745.5 1284.7 736.1C1276.7 726.6 1268.7 717.5 1260.7 708.1C1252.7 698.6 1244.7 688.5 1236.7 677.7C1228.7 666.9 1220.7 655.6 1212.7 644.8C1204.7 634.0 1196.7 623.6 1188.7 614.2C1180.7 604.8 1172.7 596.2 1164.7 588.4C1156.7 580.5 1148.7 573.4 1140.7 567.1C1132.7 560.7 1124.7 555.0 1116.7 549.9C1108.7 544.8 1100.7 540.4 1092.7 536.5C1084.7 532.6 1076.7 529.3 1068.7 526.5C1060.7 523.6 1052.7 521.3 1044.7 519.5C1036.7 517.7 1028.7 516.3 1020.7 515.4C1012.7 514.5 1004.7 514.1 996.7 514.0C988.7 514.0 980.7 514.4 972.7 515.1C964.7 515.9 956.7 517.0 948.7 518.4C940.7 519.9 932.7 521.7 924.7 523.7C916.7 525.8 908.7 528.1 900.7 530.7C892.7 533.2 884.7 536.0 876.7 539.0C868.7 541.9 860.7 545.1 852.7 548.4C844.7 551.7 836.7 555.1 828.7 558.7C820.7 562.3 812.7 566.1 804.7 570.1C796.7 574.0 788.7 578.1 780.7 582.4C772.7 586.6 764.7 591.1 756.7 595.6C748.7 600.1 740.7 604.6 732.7 608.8C724.7 613.1 716.7 617.1 708.7 620.7C700.7 624.3 692.7 627.5 684.7 629.9C676.7 632.4 668.7 634.2 660.7 635.4C652.7 636.6 644.7 637.1 636.7 637.0C628.7 636.9 620.7 636.2 612.7 635.0C604.7 633.7 596.7 631.8 588.7 629.4C580.7 627.0 572.7 623.9 564.7 620.9C556.7 617.9 548.7 615.2 540.7 613.5C532.7 611.9 524.7 611.0 516.7 610.6C508.7 610.3 500.7 610.4 492.7 611.0C484.7 611.6 476.7 612.6 468.7 613.9C460.7 615.3 452.7 616.8 444.7 619.0C436.7 621.1 428.7 624.0 420.7 628.4Z" fill="#f00" fill-opacity="0.2" stroke="none"/>
<path d="M420.7 571.8C428.7 573.7 436.7 575.7 444.7 577.8C452.7 580.0 460.7 582.1 468.7 584.1C476.7 586.1 484.7 588.0 492.7 589.4C500.7 590.9 508.7 592.0 516.7 592.6C524.7 593.1 532.7 593.1 540.7 592.4C548.7 591.7 556.7 590.4 564.7 588.6C572.7 586.8 580.7 584.5 588.7 581.8C596.7 579.2 604.7 576.1 612.7 572.7C620.7 569.3 628.7 565.6 636.7 561.7C644.7 557.7 652.7 553.4 660.7 548.5C668.7 543.6 676.7 538.2 684.7 532.0C692.7 525.8 700.7 519.0 708.7 511.8C716.7 504.5 724.7 496.9 732.7 488.9C740.7 480.9 748.7 472.5 756.7 463.7C764.7 454.8 772.7 445.6 780.7 435.8C788.7 426.1 796.7 415.9 804.7 405.1C812.7 394.4 820.7 383.1 828.7 371.5C836.7 359.9 844.7 348.1 852.7 336.5C860.7 324.9 868.7 313.6 876.7 302.8C884.7 292.0 892.7 281.9 900.7 272.4C908.7 262.9 916.7 254.2 924.7 246.3C932.7 238.4 940.7 231.4 948.7 225.3C956.7 219.3 964.7 214.1 972.7 209.9C980.7 205.6 988.7 202.3 996.7 199.9C1004.7 197.5 1012.7 196.1 1020.7 195.5C1028.7 195.0 1036.7 195.4 1044.7 196.6C1052.7 197.9 1060.7 200.1 1068.7 203.0C1076.7 206.0 1084.7 209.7 1092.7 214.2C1100.7 218.7 1108.7 224.0 1116.7 229.9C1124.7 235.9 1132.7 242.5 1140.7 249.7C1148.7 257.0 1156.7 264.8 1164.7 273.2C1172.7 281.6 1180.7 290.6 1188.7 300.0C1196.7 309.5 1204.7 319.4 1212.7 329.8C1220.7 340.2 1228.7 351.0 1236.7 362.1C1244.7 373.3 1252.7 384.8 1260.7 396.4C1268.7 408.1 1276.7 419.9 1284.7 431.7C1292.7 443.5 1300.7 455.4 1308.7 467.1C1316.7 478.8 1324.7 490.3 1332.7 501.5C1340.7 512.7 1348.7 523.6 1356.7 534.1C1364.7 544.5 1372.7 554.5 1380.7 563.8C1388.7 573.1 1396.7 581.7 1404.7 589.6C1412.7 597.5 1420.7 604.5 1428.7 610.7C1436.7 616.9 1444.7 622.3 1452.7 626.8C1460.7 631.3 1468.7 635.0 1476.7 637.8C1484.7 640.6 1492.7 642.5 1500.7 643.5C1508.7 644.6 1516.7 644.7 1524.7 644.0C1532.7 643.3 1540.7 641.9 1548.7 639.9C1556.7 638.0 1564.7 635.5 1572.7 632.8C1580.7 630.1 1588.7 627.1 1596.7 624.2C1604.7 621.2 1612.7 618.2 1620.7 615.3C1628.7 612.3 1636.7 609.4 1644.7 606.7C1652.7 604.0 1660.7 601.5 1668.7 599.0C1676.7 596.6 1684.7 594.3 1692.7 592.1C1700.7 589.9 1708.7 587.7 1716.7 585.5C1724.7 583.3 1732.7 581.2 1740.7 579.1C1748.7 577.1 1756.7 575.0 1764.7 573.1C1772.7 571.1 1780.7 569.3 1788.7 567.5C1796.7 565.8 1804.7 564.1 1812.7 562.5C1820.7 561.0 1828.7 559.5 1836.7 558.1C1844.7 556.8 1852.7 555.5 1860.7 554.3C1868.7 553.0 1876.7 551.9 1884.7 550.8C1892.7 549.7 1900.7 548.6 1908.7 547.6C1916.7 546.6 1924.7 545.6 1932.7 544.7C1940.7 543.7 1948.7 542.8 1956.7 541.9C1964.7 540.9 1972.7 540.0 1980.7 539.1C1987.1 538.4 1993.6 537.6 2000.0 536.9" fill="none" stroke="#d01018" stroke-width="1.7" stroke-dasharray="9 3.2"/>
<path d="M420.7 628.4C428.7 624.0 436.7 621.1 444.7 619.0C452.7 616.8 460.7 615.3 468.7 613.9C476.7 612.6 484.7 611.6 492.7 611.0C500.7 610.4 508.7 610.3 516.7 610.6C524.7 611.0 532.7 611.9 540.7 613.5C548.7 615.2 556.7 617.9 564.7 620.9C572.7 623.9 580.7 627.0 588.7 629.4C596.7 631.8 604.7 633.7 612.7 635.0C620.7 636.2 628.7 636.9 636.7 637.0C644.7 637.1 652.7 636.6 660.7 635.4C668.7 634.2 676.7 632.4 684.7 629.9C692.7 627.5 700.7 624.3 708.7 620.7C716.7 617.1 724.7 613.1 732.7 608.8C740.7 604.6 748.7 600.1 756.7 595.6C764.7 591.1 772.7 586.6 780.7 582.4C788.7 578.1 796.7 574.0 804.7 570.1C812.7 566.1 820.7 562.3 828.7 558.7C836.7 555.1 844.7 551.7 852.7 548.4C860.7 545.1 868.7 541.9 876.7 539.0C884.7 536.0 892.7 533.2 900.7 530.7C908.7 528.1 916.7 525.8 924.7 523.7C932.7 521.7 940.7 519.9 948.7 518.4C956.7 517.0 964.7 515.9 972.7 515.1C980.7 514.4 988.7 514.0 996.7 514.0C1004.7 514.1 1012.7 514.5 1020.7 515.4C1028.7 516.3 1036.7 517.7 1044.7 519.5C1052.7 521.3 1060.7 523.6 1068.7 526.5C1076.7 529.3 1084.7 532.6 1092.7 536.5C1100.7 540.4 1108.7 544.8 1116.7 549.9C1124.7 555.0 1132.7 560.7 1140.7 567.1C1148.7 573.4 1156.7 580.5 1164.7 588.4C1172.7 596.2 1180.7 604.8 1188.7 614.2C1196.7 623.6 1204.7 634.0 1212.7 644.8C1220.7 655.6 1228.7 666.9 1236.7 677.7C1244.7 688.5 1252.7 698.6 1260.7 708.1C1268.7 717.5 1276.7 726.6 1284.7 736.1C1292.7 745.5 1300.7 755.8 1308.7 766.6C1316.7 777.4 1324.7 788.5 1332.7 799.0C1340.7 809.4 1348.7 819.0 1356.7 827.7C1364.7 836.3 1372.7 844.1 1380.7 851.3C1388.7 858.4 1396.7 864.8 1404.7 870.6C1412.7 876.5 1420.7 881.8 1428.7 886.8C1436.7 891.7 1444.7 896.3 1452.7 900.5C1460.7 904.6 1468.7 908.4 1476.7 911.7C1484.7 915.1 1492.7 918.0 1500.7 920.4C1508.7 922.9 1516.7 924.8 1524.7 925.7C1532.7 926.6 1540.7 926.4 1548.7 925.4C1556.7 924.5 1564.7 922.7 1572.7 920.4C1580.7 918.1 1588.7 915.2 1596.7 912.0C1604.7 908.8 1612.7 905.3 1620.7 901.7C1628.7 898.0 1636.7 894.3 1644.7 890.8C1652.7 887.2 1660.7 883.8 1668.7 880.6C1676.7 877.4 1684.7 874.3 1692.7 871.2C1700.7 868.2 1708.7 865.2 1716.7 862.1C1724.7 859.0 1732.7 855.9 1740.7 852.7C1748.7 849.4 1756.7 846.0 1764.7 842.4C1772.7 838.8 1780.7 835.0 1788.7 831.1C1796.7 827.2 1804.7 823.3 1812.7 819.6C1820.7 816.0 1828.7 812.7 1836.7 809.9C1844.7 807.2 1852.7 805.1 1860.7 803.6C1868.7 802.2 1876.7 801.4 1884.7 801.0C1892.7 800.6 1900.7 800.6 1908.7 800.8C1916.7 800.9 1924.7 801.3 1932.7 801.4C1940.7 801.5 1948.7 801.4 1956.7 800.5C1964.7 799.7 1972.7 798.0 1980.7 795.2C1987.1 792.9 1993.6 790.0 2000.0 786.3" fill="none" stroke="#d01018" stroke-width="1.7" stroke-dasharray="9 3.2"/>
<path d="M420.7 586.8C428.7 587.3 436.7 587.8 444.7 588.4C452.7 589.0 460.7 589.7 468.7 590.5C476.7 591.2 484.7 592.0 492.7 592.8C500.7 593.7 508.7 594.5 516.7 595.3C524.7 596.1 532.7 596.9 540.7 597.7C548.7 598.4 556.7 599.2 564.7 599.8C572.7 600.5 580.7 601.0 588.7 601.5C596.7 602.0 604.7 602.3 612.7 602.6C620.7 602.8 628.7 602.9 636.7 602.7C644.7 602.6 652.7 602.2 660.7 601.6C668.7 601.0 676.7 600.1 684.7 598.8C692.7 597.6 700.7 596.0 708.7 594.1C716.7 592.1 724.7 589.8 732.7 587.3C740.7 584.7 748.7 582.0 756.7 579.0C764.7 576.1 772.7 573.0 780.7 569.8C788.7 566.6 796.7 563.4 804.7 560.1C812.7 556.8 820.7 553.5 828.7 550.2C836.7 547.0 844.7 543.8 852.7 540.7C860.7 537.6 868.7 534.7 876.7 531.9C884.7 529.2 892.7 526.6 900.7 524.3C908.7 521.9 916.7 519.9 924.7 518.1C932.7 516.4 940.7 515.0 948.7 514.0C956.7 513.0 964.7 512.4 972.7 512.2C980.7 512.0 988.7 512.4 996.7 513.2C1004.7 514.0 1012.7 515.2 1020.7 516.8C1028.7 518.3 1036.7 520.2 1044.7 522.3C1052.7 524.3 1060.7 526.6 1068.7 528.9C1076.7 531.3 1084.7 533.7 1092.7 536.1C1100.7 538.5 1108.7 541.0 1116.7 543.5C1124.7 545.9 1132.7 548.4 1140.7 551.0C1148.7 553.5 1156.7 556.0 1164.7 558.6C1172.7 561.2 1180.7 563.8 1188.7 566.5C1196.7 569.1 1204.7 571.8 1212.7 574.4C1220.7 577.0 1228.7 579.7 1236.7 582.3C1244.7 584.8 1252.7 587.4 1260.7 589.9C1268.7 592.4 1276.7 594.8 1284.7 597.2C1292.7 599.5 1300.7 601.8 1308.7 604.0C1316.7 606.2 1324.7 608.2 1332.7 610.2C1340.7 612.1 1348.7 613.9 1356.7 615.5C1364.7 617.2 1372.7 618.7 1380.7 620.0C1388.7 621.4 1396.7 622.6 1404.7 623.6C1412.7 624.7 1420.7 625.6 1428.7 626.3C1436.7 627.1 1444.7 627.7 1452.7 628.1C1460.7 628.5 1468.7 628.8 1476.7 628.9C1484.7 629.0 1492.7 628.9 1500.7 628.7C1508.7 628.5 1516.7 628.1 1524.7 627.6C1532.7 627.0 1540.7 626.3 1548.7 625.4C1556.7 624.6 1564.7 623.6 1572.7 622.4C1580.7 621.3 1588.7 620.0 1596.7 618.7C1604.7 617.3 1612.7 615.9 1620.7 614.4C1628.7 612.8 1636.7 611.2 1644.7 609.6C1652.7 607.9 1660.7 606.2 1668.7 604.5C1676.7 602.8 1684.7 601.1 1692.7 599.3C1700.7 597.6 1708.7 595.8 1716.7 594.1C1724.7 592.4 1732.7 590.7 1740.7 589.1C1748.7 587.4 1756.7 585.8 1764.7 584.3C1772.7 582.8 1780.7 581.3 1788.7 580.0C1796.7 578.6 1804.7 577.4 1812.7 576.2C1820.7 575.1 1828.7 574.0 1836.7 573.1C1844.7 572.1 1852.7 571.2 1860.7 570.4C1868.7 569.5 1876.7 568.8 1884.7 568.1C1892.7 567.3 1900.7 566.7 1908.7 566.1C1916.7 565.5 1924.7 564.9 1932.7 564.3C1940.7 563.8 1948.7 563.2 1956.7 562.7C1964.7 562.2 1972.7 561.7 1980.7 561.2C1987.1 560.8 1993.6 560.3 2000.0 559.9L2000.0 655.9C1993.6 656.3 1987.1 656.7 1980.7 657.3C1972.7 657.9 1964.7 658.7 1956.7 659.6C1948.7 660.4 1940.7 661.4 1932.7 662.5C1924.7 663.6 1916.7 664.8 1908.7 666.2C1900.7 667.5 1892.7 668.9 1884.7 670.4C1876.7 671.9 1868.7 673.4 1860.7 675.1C1852.7 676.8 1844.7 678.5 1836.7 680.4C1828.7 682.2 1820.7 684.1 1812.7 686.1C1804.7 688.1 1796.7 690.1 1788.7 692.2C1780.7 694.3 1772.7 696.5 1764.7 698.7C1756.7 700.9 1748.7 703.1 1740.7 705.3C1732.7 707.5 1724.7 709.7 1716.7 711.9C1708.7 714.1 1700.7 716.2 1692.7 718.3C1684.7 720.4 1676.7 722.4 1668.7 724.4C1660.7 726.3 1652.7 728.2 1644.7 729.9C1636.7 731.7 1628.7 733.3 1620.7 734.8C1612.7 736.3 1604.7 737.6 1596.7 738.8C1588.7 739.9 1580.7 740.9 1572.7 741.7C1564.7 742.5 1556.7 743.2 1548.7 743.6C1540.7 744.0 1532.7 744.3 1524.7 744.4C1516.7 744.4 1508.7 744.3 1500.7 744.0C1492.7 743.7 1484.7 743.2 1476.7 742.5C1468.7 741.8 1460.7 741.0 1452.7 739.9C1444.7 738.8 1436.7 737.6 1428.7 736.1C1420.7 734.7 1412.7 733.1 1404.7 731.2C1396.7 729.4 1388.7 727.4 1380.7 725.2C1372.7 722.9 1364.7 720.5 1356.7 717.9C1348.7 715.4 1340.7 712.7 1332.7 709.8C1324.7 707.0 1316.7 704.0 1308.7 701.0C1300.7 698.0 1292.7 694.9 1284.7 691.8C1276.7 688.8 1268.7 685.6 1260.7 682.4C1252.7 679.2 1244.7 676.0 1236.7 672.7C1228.7 669.3 1220.7 665.9 1212.7 662.4C1204.7 659.0 1196.7 655.5 1188.7 652.1C1180.7 648.7 1172.7 645.5 1164.7 642.4C1156.7 639.3 1148.7 636.4 1140.7 633.7C1132.7 631.0 1124.7 628.6 1116.7 626.3C1108.7 624.0 1100.7 621.9 1092.7 620.1C1084.7 618.3 1076.7 616.7 1068.7 615.3C1060.7 613.9 1052.7 612.8 1044.7 611.9C1036.7 611.0 1028.7 610.3 1020.7 609.9C1012.7 609.5 1004.7 609.4 996.7 609.5C988.7 609.7 980.7 610.1 972.7 610.8C964.7 611.5 956.7 612.4 948.7 613.7C940.7 614.9 932.7 616.4 924.7 617.9C916.7 619.4 908.7 621.0 900.7 622.5C892.7 624.0 884.7 625.5 876.7 626.6C868.7 627.8 860.7 628.6 852.7 629.2C844.7 629.8 836.7 630.1 828.7 630.2C820.7 630.4 812.7 630.3 804.7 630.1C796.7 629.9 788.7 629.6 780.7 629.3C772.7 628.9 764.7 628.5 756.7 628.1C748.7 627.8 740.7 627.4 732.7 627.1C724.7 626.8 716.7 626.6 708.7 626.3C700.7 626.0 692.7 625.7 684.7 625.4C676.7 625.1 668.7 624.7 660.7 624.3C652.7 623.9 644.7 623.4 636.7 622.8C628.7 622.2 620.7 621.5 612.7 620.7C604.7 619.8 596.7 618.8 588.7 617.7C580.7 616.6 572.7 615.3 564.7 614.1C556.7 612.8 548.7 611.6 540.7 610.5C532.7 609.5 524.7 608.6 516.7 607.9C508.7 607.3 500.7 606.9 492.7 606.8C484.7 606.6 476.7 606.8 468.7 607.3C460.7 607.8 452.7 608.6 444.7 609.9C436.7 611.1 428.7 612.8 420.7 614.8Z" fill="#00f" fill-opacity="0.4" stroke="none"/>
<path d="M420.7 586.8C428.7 587.3 436.7 587.8 444.7 588.4C452.7 589.0 460.7 589.7 468.7 590.5C476.7 591.2 484.7 592.0 492.7 592.8C500.7 593.7 508.7 594.5 516.7 595.3C524.7 596.1 532.7 596.9 540.7 597.7C548.7 598.4 556.7 599.2 564.7 599.8C572.7 600.5 580.7 601.0 588.7 601.5C596.7 602.0 604.7 602.3 612.7 602.6C620.7 602.8 628.7 602.9 636.7 602.7C644.7 602.6 652.7 602.2 660.7 601.6C668.7 601.0 676.7 600.1 684.7 598.8C692.7 597.6 700.7 596.0 708.7 594.1C716.7 592.1 724.7 589.8 732.7 587.3C740.7 584.7 748.7 582.0 756.7 579.0C764.7 576.1 772.7 573.0 780.7 569.8C788.7 566.6 796.7 563.4 804.7 560.1C812.7 556.8 820.7 553.5 828.7 550.2C836.7 547.0 844.7 543.8 852.7 540.7C860.7 537.6 868.7 534.7 876.7 531.9C884.7 529.2 892.7 526.6 900.7 524.3C908.7 521.9 916.7 519.9 924.7 518.1C932.7 516.4 940.7 515.0 948.7 514.0C956.7 513.0 964.7 512.4 972.7 512.2C980.7 512.0 988.7 512.4 996.7 513.2C1004.7 514.0 1012.7 515.2 1020.7 516.8C1028.7 518.3 1036.7 520.2 1044.7 522.3C1052.7 524.3 1060.7 526.6 1068.7 528.9C1076.7 531.3 1084.7 533.7 1092.7 536.1C1100.7 538.5 1108.7 541.0 1116.7 543.5C1124.7 545.9 1132.7 548.4 1140.7 551.0C1148.7 553.5 1156.7 556.0 1164.7 558.6C1172.7 561.2 1180.7 563.8 1188.7 566.5C1196.7 569.1 1204.7 571.8 1212.7 574.4C1220.7 577.0 1228.7 579.7 1236.7 582.3C1244.7 584.8 1252.7 587.4 1260.7 589.9C1268.7 592.4 1276.7 594.8 1284.7 597.2C1292.7 599.5 1300.7 601.8 1308.7 604.0C1316.7 606.2 1324.7 608.2 1332.7 610.2C1340.7 612.1 1348.7 613.9 1356.7 615.5C1364.7 617.2 1372.7 618.7 1380.7 620.0C1388.7 621.4 1396.7 622.6 1404.7 623.6C1412.7 624.7 1420.7 625.6 1428.7 626.3C1436.7 627.1 1444.7 627.7 1452.7 628.1C1460.7 628.5 1468.7 628.8 1476.7 628.9C1484.7 629.0 1492.7 628.9 1500.7 628.7C1508.7 628.5 1516.7 628.1 1524.7 627.6C1532.7 627.0 1540.7 626.3 1548.7 625.4C1556.7 624.6 1564.7 623.6 1572.7 622.4C1580.7 621.3 1588.7 620.0 1596.7 618.7C1604.7 617.3 1612.7 615.9 1620.7 614.4C1628.7 612.8 1636.7 611.2 1644.7 609.6C1652.7 607.9 1660.7 606.2 1668.7 604.5C1676.7 602.8 1684.7 601.1 1692.7 599.3C1700.7 597.6 1708.7 595.8 1716.7 594.1C1724.7 592.4 1732.7 590.7 1740.7 589.1C1748.7 587.4 1756.7 585.8 1764.7 584.3C1772.7 582.8 1780.7 581.3 1788.7 580.0C1796.7 578.6 1804.7 577.4 1812.7 576.2C1820.7 575.1 1828.7 574.0 1836.7 573.1C1844.7 572.1 1852.7 571.2 1860.7 570.4C1868.7 569.5 1876.7 568.8 1884.7 568.1C1892.7 567.3 1900.7 566.7 1908.7 566.1C1916.7 565.5 1924.7 564.9 1932.7 564.3C1940.7 563.8 1948.7 563.2 1956.7 562.7C1964.7 562.2 1972.7 561.7 1980.7 561.2C1987.1 560.8 1993.6 560.3 2000.0 559.9" fill="none" stroke="#0000d0" stroke-width="1.7" stroke-dasharray="9 3.2"/>
<path d="M420.7 614.8C428.7 612.8 436.7 611.1 444.7 609.9C452.7 608.6 460.7 607.8 468.7 607.3C476.7 606.8 484.7 606.6 492.7 606.8C500.7 606.9 508.7 607.3 516.7 607.9C524.7 608.6 532.7 609.5 540.7 610.5C548.7 611.6 556.7 612.8 564.7 614.1C572.7 615.3 580.7 616.6 588.7 617.7C596.7 618.8 604.7 619.8 612.7 620.7C620.7 621.5 628.7 622.2 636.7 622.8C644.7 623.4 652.7 623.9 660.7 624.3C668.7 624.7 676.7 625.1 684.7 625.4C692.7 625.7 700.7 626.0 708.7 626.3C716.7 626.6 724.7 626.8 732.7 627.1C740.7 627.4 748.7 627.8 756.7 628.1C764.7 628.5 772.7 628.9 780.7 629.3C788.7 629.6 796.7 629.9 804.7 630.1C812.7 630.3 820.7 630.4 828.7 630.2C836.7 630.1 844.7 629.8 852.7 629.2C860.7 628.6 868.7 627.8 876.7 626.6C884.7 625.5 892.7 624.0 900.7 622.5C908.7 621.0 916.7 619.4 924.7 617.9C932.7 616.4 940.7 614.9 948.7 613.7C956.7 612.4 964.7 611.5 972.7 610.8C980.7 610.1 988.7 609.7 996.7 609.5C1004.7 609.4 1012.7 609.5 1020.7 609.9C1028.7 610.3 1036.7 611.0 1044.7 611.9C1052.7 612.8 1060.7 613.9 1068.7 615.3C1076.7 616.7 1084.7 618.3 1092.7 620.1C1100.7 621.9 1108.7 624.0 1116.7 626.3C1124.7 628.6 1132.7 631.0 1140.7 633.7C1148.7 636.4 1156.7 639.3 1164.7 642.4C1172.7 645.5 1180.7 648.7 1188.7 652.1C1196.7 655.5 1204.7 659.0 1212.7 662.4C1220.7 665.9 1228.7 669.3 1236.7 672.7C1244.7 676.0 1252.7 679.2 1260.7 682.4C1268.7 685.6 1276.7 688.8 1284.7 691.8C1292.7 694.9 1300.7 698.0 1308.7 701.0C1316.7 704.0 1324.7 707.0 1332.7 709.8C1340.7 712.7 1348.7 715.4 1356.7 717.9C1364.7 720.5 1372.7 722.9 1380.7 725.2C1388.7 727.4 1396.7 729.4 1404.7 731.2C1412.7 733.1 1420.7 734.7 1428.7 736.1C1436.7 737.6 1444.7 738.8 1452.7 739.9C1460.7 741.0 1468.7 741.8 1476.7 742.5C1484.7 743.2 1492.7 743.7 1500.7 744.0C1508.7 744.3 1516.7 744.4 1524.7 744.4C1532.7 744.3 1540.7 744.0 1548.7 743.6C1556.7 743.2 1564.7 742.5 1572.7 741.7C1580.7 740.9 1588.7 739.9 1596.7 738.8C1604.7 737.6 1612.7 736.3 1620.7 734.8C1628.7 733.3 1636.7 731.7 1644.7 729.9C1652.7 728.2 1660.7 726.3 1668.7 724.4C1676.7 722.4 1684.7 720.4 1692.7 718.3C1700.7 716.2 1708.7 714.1 1716.7 711.9C1724.7 709.7 1732.7 707.5 1740.7 705.3C1748.7 703.1 1756.7 700.9 1764.7 698.7C1772.7 696.5 1780.7 694.3 1788.7 692.2C1796.7 690.1 1804.7 688.1 1812.7 686.1C1820.7 684.1 1828.7 682.2 1836.7 680.4C1844.7 678.5 1852.7 676.8 1860.7 675.1C1868.7 673.4 1876.7 671.9 1884.7 670.4C1892.7 668.9 1900.7 667.5 1908.7 666.2C1916.7 664.8 1924.7 663.6 1932.7 662.5C1940.7 661.4 1948.7 660.4 1956.7 659.6C1964.7 658.7 1972.7 657.9 1980.7 657.3C1987.1 656.7 1993.6 656.3 2000.0 655.9" fill="none" stroke="#0000d0" stroke-width="1.7" stroke-dasharray="9 3.2"/>
<path d="M420.7 593.0C428.7 595.2 436.7 597.0 444.7 598.4C452.7 599.9 460.7 601.0 468.7 601.9C476.7 602.8 484.7 603.4 492.7 603.9C500.7 604.3 508.7 604.6 516.7 604.7C524.7 604.9 532.7 604.9 540.7 604.9C548.7 604.8 556.7 604.8 564.7 604.7C572.7 604.7 580.7 604.7 588.7 604.7C596.7 604.8 604.7 604.9 612.7 605.3C620.7 605.6 628.7 606.0 636.7 606.7C644.7 607.4 652.7 608.3 660.7 609.3C668.7 610.3 676.7 611.5 684.7 612.7C692.7 613.8 700.7 615.0 708.7 616.2C716.7 617.4 724.7 618.5 732.7 619.6C740.7 620.6 748.7 621.7 756.7 622.8C764.7 623.8 772.7 624.9 780.7 626.1C788.7 627.2 796.7 628.4 804.7 629.7C812.7 631.0 820.7 632.4 828.7 633.8C836.7 635.3 844.7 636.8 852.7 638.3C860.7 639.8 868.7 641.3 876.7 642.8C884.7 644.3 892.7 645.7 900.7 647.1C908.7 648.4 916.7 649.6 924.7 650.7C932.7 651.8 940.7 652.7 948.7 653.5C956.7 654.2 964.7 654.7 972.7 655.0C980.7 655.2 988.7 655.2 996.7 654.9C1004.7 654.6 1012.7 654.0 1020.7 653.1C1028.7 652.1 1036.7 650.8 1044.7 649.1C1052.7 647.5 1060.7 645.6 1068.7 643.5C1076.7 641.4 1084.7 639.0 1092.7 636.5C1100.7 634.1 1108.7 631.4 1116.7 628.7C1124.7 626.0 1132.7 623.2 1140.7 620.3C1148.7 617.4 1156.7 614.4 1164.7 611.3C1172.7 608.2 1180.7 604.9 1188.7 601.6C1196.7 598.3 1204.7 594.8 1212.7 591.3C1220.7 587.8 1228.7 584.1 1236.7 580.5C1244.7 576.8 1252.7 573.1 1260.7 569.4C1268.7 565.7 1276.7 562.0 1284.7 558.4C1292.7 554.8 1300.7 551.2 1308.7 547.7C1316.7 544.3 1324.7 540.9 1332.7 537.6C1340.7 534.4 1348.7 531.3 1356.7 528.3C1364.7 525.3 1372.7 522.4 1380.7 519.7C1388.7 516.9 1396.7 514.3 1404.7 511.7C1412.7 509.2 1420.7 506.8 1428.7 504.6C1436.7 502.3 1444.7 500.1 1452.7 498.0C1460.7 496.0 1468.7 494.0 1476.7 492.1C1484.7 490.2 1492.7 488.4 1500.7 486.7C1508.7 485.0 1516.7 483.4 1524.7 481.8C1532.7 480.3 1540.7 478.8 1548.7 477.4C1556.7 476.0 1564.7 474.7 1572.7 473.6C1580.7 472.6 1588.7 471.6 1596.7 470.9C1604.7 470.2 1612.7 469.7 1620.7 469.5C1628.7 469.3 1636.7 469.3 1644.7 469.6C1652.7 469.9 1660.7 470.4 1668.7 471.1C1676.7 471.7 1684.7 472.6 1692.7 473.7C1700.7 474.7 1708.7 475.9 1716.7 477.3C1724.7 478.6 1732.7 480.1 1740.7 481.7C1748.7 483.2 1756.7 484.9 1764.7 486.6C1772.7 488.3 1780.7 490.1 1788.7 491.9C1796.7 493.8 1804.7 495.6 1812.7 497.4C1820.7 499.3 1828.7 501.1 1836.7 502.9C1844.7 504.8 1852.7 506.6 1860.7 508.4C1868.7 510.2 1876.7 512.0 1884.7 513.8C1892.7 515.7 1900.7 517.6 1908.7 519.5C1916.7 521.4 1924.7 523.4 1932.7 525.4C1940.7 527.4 1948.7 529.5 1956.7 531.7C1964.7 533.9 1972.7 536.2 1980.7 538.6C1987.1 540.5 1993.6 542.5 2000.0 544.5" fill="none" stroke="#ff8000" stroke-width="6.6" stroke-linejoin="round"/>
<path d="M420.7 608.4C428.7 607.1 436.7 606.1 444.7 605.2C452.7 604.3 460.7 603.5 468.7 602.9C476.7 602.3 484.7 601.8 492.7 601.4C500.7 601.0 508.7 600.7 516.7 600.4C524.7 600.2 532.7 600.0 540.7 599.9C548.7 599.8 556.7 599.7 564.7 599.6C572.7 599.5 580.7 599.4 588.7 599.3C596.7 599.2 604.7 599.1 612.7 599.0C620.7 598.8 628.7 598.6 636.7 598.4C644.7 598.1 652.7 597.9 660.7 597.5C668.7 597.2 676.7 596.9 684.7 596.5C692.7 596.1 700.7 595.7 708.7 595.3C716.7 594.9 724.7 594.5 732.7 594.0C740.7 593.5 748.7 593.1 756.7 592.6C764.7 592.1 772.7 591.6 780.7 591.1C788.7 590.6 796.7 590.1 804.7 589.6C812.7 589.1 820.7 588.7 828.7 588.2C836.7 587.8 844.7 587.4 852.7 587.1C860.7 586.8 868.7 586.5 876.7 586.4C884.7 586.2 892.7 586.1 900.7 586.1C908.7 586.1 916.7 586.3 924.7 586.5C932.7 586.8 940.7 587.2 948.7 587.7C956.7 588.3 964.7 589.0 972.7 589.8C980.7 590.7 988.7 591.6 996.7 592.7C1004.7 593.8 1012.7 595.0 1020.7 596.3C1028.7 597.5 1036.7 598.8 1044.7 600.2C1052.7 601.5 1060.7 602.9 1068.7 604.2C1076.7 605.6 1084.7 606.9 1092.7 608.2C1100.7 609.5 1108.7 610.8 1116.7 611.9C1124.7 613.1 1132.7 614.2 1140.7 615.3C1148.7 616.3 1156.7 617.3 1164.7 618.3C1172.7 619.3 1180.7 620.3 1188.7 621.2C1196.7 622.2 1204.7 623.2 1212.7 624.1C1220.7 625.1 1228.7 626.0 1236.7 627.0C1244.7 627.9 1252.7 628.7 1260.7 629.5C1268.7 630.3 1276.7 631.1 1284.7 631.7C1292.7 632.3 1300.7 632.9 1308.7 633.3C1316.7 633.8 1324.7 634.1 1332.7 634.4C1340.7 634.7 1348.7 634.9 1356.7 635.0C1364.7 635.1 1372.7 635.2 1380.7 635.2C1388.7 635.2 1396.7 635.2 1404.7 635.2C1412.7 635.1 1420.7 635.0 1428.7 634.9C1436.7 634.8 1444.7 634.6 1452.7 634.5C1460.7 634.4 1468.7 634.2 1476.7 634.1C1484.7 633.9 1492.7 633.8 1500.7 633.7C1508.7 633.6 1516.7 633.5 1524.7 633.4C1532.7 633.3 1540.7 633.2 1548.7 633.1C1556.7 633.0 1564.7 633.0 1572.7 633.0C1580.7 633.0 1588.7 633.0 1596.7 633.0C1604.7 633.0 1612.7 633.1 1620.7 633.2C1628.7 633.3 1636.7 633.4 1644.7 633.6C1652.7 633.8 1660.7 634.0 1668.7 634.3C1676.7 634.5 1684.7 634.8 1692.7 635.1C1700.7 635.5 1708.7 635.9 1716.7 636.3C1724.7 636.7 1732.7 637.1 1740.7 637.5C1748.7 637.9 1756.7 638.4 1764.7 638.8C1772.7 639.2 1780.7 639.6 1788.7 640.0C1796.7 640.5 1804.7 640.8 1812.7 641.2C1820.7 641.5 1828.7 641.9 1836.7 642.2C1844.7 642.4 1852.7 642.7 1860.7 642.8C1868.7 643.0 1876.7 643.1 1884.7 643.2C1892.7 643.2 1900.7 643.2 1908.7 643.1C1916.7 643.0 1924.7 642.8 1932.7 642.6C1940.7 642.4 1948.7 642.1 1956.7 641.8C1964.7 641.6 1972.7 641.3 1980.7 641.0C1987.1 640.8 1993.6 640.6 2000.0 640.4" fill="none" stroke="#000" stroke-width="6.6" stroke-linejoin="round"/>
<path d="M420.7 601.4C428.7 599.8 436.7 598.8 444.7 598.2C452.7 597.6 460.7 597.5 468.7 597.6C476.7 597.7 484.7 598.1 492.7 598.7C500.7 599.3 508.7 600.1 516.7 600.9C524.7 601.7 532.7 602.6 540.7 603.4C548.7 604.2 556.7 604.9 564.7 605.5C572.7 606.0 580.7 606.4 588.7 606.4C596.7 606.4 604.7 606.2 612.7 605.4C620.7 604.7 628.7 603.6 636.7 601.9C644.7 600.2 652.7 597.9 660.7 594.8C668.7 591.6 676.7 587.5 684.7 582.6C692.7 577.7 700.7 572.3 708.7 566.7C716.7 561.2 724.7 555.5 732.7 549.5C740.7 543.6 748.7 537.3 756.7 530.8C764.7 524.2 772.7 517.3 780.7 510.2C788.7 503.0 796.7 495.6 804.7 488.1C812.7 480.6 820.7 473.0 828.7 465.5C836.7 457.9 844.7 450.4 852.7 443.1C860.7 435.7 868.7 428.6 876.7 421.7C884.7 414.9 892.7 408.4 900.7 402.3C908.7 396.1 916.7 390.5 924.7 385.3C932.7 380.2 940.7 375.6 948.7 371.6C956.7 367.7 964.7 364.4 972.7 361.8C980.7 359.2 988.7 357.3 996.7 356.2C1004.7 355.0 1012.7 354.5 1020.7 354.7C1028.7 354.9 1036.7 355.8 1044.7 357.4C1052.7 359.0 1060.7 361.2 1068.7 364.2C1076.7 367.1 1084.7 370.8 1092.7 375.0C1100.7 379.3 1108.7 384.3 1116.7 389.9C1124.7 395.5 1132.7 401.8 1140.7 408.8C1148.7 415.7 1156.7 423.4 1164.7 431.6C1172.7 439.8 1180.7 448.6 1188.7 457.9C1196.7 467.2 1204.7 476.9 1212.7 487.1C1220.7 497.2 1228.7 507.7 1236.7 518.5C1244.7 529.2 1252.7 540.2 1260.7 551.4C1268.7 562.6 1276.7 573.9 1284.7 585.2C1292.7 596.5 1300.7 607.7 1308.7 618.8C1316.7 629.9 1324.7 640.7 1332.7 651.2C1340.7 661.7 1348.7 671.7 1356.7 681.3C1364.7 690.8 1372.7 699.8 1380.7 708.0C1388.7 716.3 1396.7 723.8 1404.7 730.6C1412.7 737.4 1420.7 743.5 1428.7 749.0C1436.7 754.4 1444.7 759.2 1452.7 763.3C1460.7 767.4 1468.7 770.9 1476.7 773.7C1484.7 776.5 1492.7 778.6 1500.7 780.2C1508.7 781.7 1516.7 782.6 1524.7 782.9C1532.7 783.3 1540.7 783.0 1548.7 782.1C1556.7 781.2 1564.7 779.8 1572.7 777.8C1580.7 775.7 1588.7 773.1 1596.7 770.1C1604.7 767.0 1612.7 763.5 1620.7 760.1C1628.7 756.6 1636.7 753.1 1644.7 750.1C1652.7 747.0 1660.7 744.5 1668.7 742.0C1676.7 739.6 1684.7 737.4 1692.7 735.0C1700.7 732.6 1708.7 730.0 1716.7 727.1C1724.7 724.2 1732.7 721.1 1740.7 717.8C1748.7 714.5 1756.7 711.2 1764.7 707.9C1772.7 704.6 1780.7 701.4 1788.7 698.4C1796.7 695.4 1804.7 692.6 1812.7 690.1C1820.7 687.6 1828.7 685.3 1836.7 683.4C1844.7 681.4 1852.7 679.7 1860.7 678.2C1868.7 676.7 1876.7 675.5 1884.7 674.5C1892.7 673.5 1900.7 672.7 1908.7 672.2C1916.7 671.7 1924.7 671.4 1932.7 671.2C1940.7 671.0 1948.7 670.8 1956.7 670.3C1964.7 669.8 1972.7 669.0 1980.7 667.6C1987.1 666.4 1993.6 664.9 2000.0 662.8" fill="none" stroke="#ff0000" stroke-width="6.6" stroke-linejoin="round"/>
<path d="M420.7 600.0C428.7 599.1 436.7 598.6 444.7 598.3C452.7 598.0 460.7 597.9 468.7 598.0C476.7 598.2 484.7 598.5 492.7 598.9C500.7 599.4 508.7 600.0 516.7 600.7C524.7 601.4 532.7 602.2 540.7 603.0C548.7 603.9 556.7 604.7 564.7 605.6C572.7 606.4 580.7 607.3 588.7 608.0C596.7 608.8 604.7 609.5 612.7 610.1C620.7 610.6 628.7 611.1 636.7 611.4C644.7 611.6 652.7 611.7 660.7 611.7C668.7 611.6 676.7 611.4 684.7 611.0C692.7 610.6 700.7 610.0 708.7 609.3C716.7 608.6 724.7 607.8 732.7 606.8C740.7 605.9 748.7 604.8 756.7 603.5C764.7 602.3 772.7 601.0 780.7 599.6C788.7 598.1 796.7 596.6 804.7 595.0C812.7 593.3 820.7 591.6 828.7 589.8C836.7 588.1 844.7 586.2 852.7 584.3C860.7 582.4 868.7 580.4 876.7 578.5C884.7 576.7 892.7 574.8 900.7 573.1C908.7 571.4 916.7 569.8 924.7 568.4C932.7 567.0 940.7 565.9 948.7 564.9C956.7 564.0 964.7 563.4 972.7 563.1C980.7 562.8 988.7 562.7 996.7 563.0C1004.7 563.2 1012.7 563.8 1020.7 564.6C1028.7 565.4 1036.7 566.5 1044.7 567.8C1052.7 569.1 1060.7 570.7 1068.7 572.6C1076.7 574.4 1084.7 576.4 1092.7 578.6C1100.7 580.8 1108.7 583.2 1116.7 585.7C1124.7 588.3 1132.7 590.9 1140.7 593.6C1148.7 596.4 1156.7 599.2 1164.7 602.1C1172.7 604.9 1180.7 607.9 1188.7 610.8C1196.7 613.7 1204.7 616.6 1212.7 619.4C1220.7 622.3 1228.7 625.1 1236.7 627.9C1244.7 630.6 1252.7 633.3 1260.7 635.8C1268.7 638.4 1276.7 641.0 1284.7 643.5C1292.7 645.9 1300.7 648.4 1308.7 650.7C1316.7 653.1 1324.7 655.4 1332.7 657.7C1340.7 660.0 1348.7 662.3 1356.7 664.5C1364.7 666.7 1372.7 668.9 1380.7 671.0C1388.7 673.0 1396.7 675.0 1404.7 676.7C1412.7 678.5 1420.7 680.0 1428.7 681.4C1436.7 682.7 1444.7 683.7 1452.7 684.5C1460.7 685.3 1468.7 685.9 1476.7 686.2C1484.7 686.5 1492.7 686.6 1500.7 686.5C1508.7 686.4 1516.7 686.1 1524.7 685.6C1532.7 685.1 1540.7 684.4 1548.7 683.6C1556.7 682.8 1564.7 681.8 1572.7 680.8C1580.7 679.7 1588.7 678.5 1596.7 677.2C1604.7 675.9 1612.7 674.5 1620.7 673.1C1628.7 671.7 1636.7 670.1 1644.7 668.6C1652.7 667.0 1660.7 665.4 1668.7 663.7C1676.7 662.1 1684.7 660.4 1692.7 658.7C1700.7 656.9 1708.7 655.2 1716.7 653.4C1724.7 651.7 1732.7 649.9 1740.7 648.1C1748.7 646.4 1756.7 644.6 1764.7 642.9C1772.7 641.1 1780.7 639.4 1788.7 637.7C1796.7 636.0 1804.7 634.3 1812.7 632.7C1820.7 631.0 1828.7 629.4 1836.7 627.9C1844.7 626.4 1852.7 624.9 1860.7 623.5C1868.7 622.1 1876.7 620.8 1884.7 619.6C1892.7 618.3 1900.7 617.2 1908.7 616.1C1916.7 615.1 1924.7 614.1 1932.7 613.3C1940.7 612.4 1948.7 611.7 1956.7 611.1C1964.7 610.5 1972.7 610.0 1980.7 609.7C1987.1 609.4 1993.6 609.3 2000.0 609.2" fill="none" stroke="#0000ff" stroke-width="6.6" stroke-linejoin="round"/>
</g>
<g stroke="#262626" stroke-width="1.8" fill="none">
<rect x="420.7" y="103.5" width="1579.3" height="881.2"/>
<path d="M612.1 984.7v-16M612.1 103.5v16M803.6 984.7v-16M803.6 103.5v16M995.0 984.7v-16M995.0 103.5v16M1186.4 984.7v-16M1186.4 103.5v16M1377.9 984.7v-16M1377.9 103.5v16M1569.3 984.7v-16M1569.3 103.5v16M1760.7 984.7v-16M1760.7 103.5v16M1952.1 984.7v-16M1952.1 103.5v16M420.7 142.0h16M2000.0 142.0h-16M420.7 295.3h16M2000.0 295.3h-16M420.7 448.5h16M2000.0 448.5h-16M420.7 601.8h16M2000.0 601.8h-16M420.7 755.0h16M2000.0 755.0h-16M420.7 908.3h16M2000.0 908.3h-16"/>
</g>
<text class="tk" transform="translate(420.7 1078.0) scale(0.96 1)" text-anchor="middle">-2</text>
<text class="tk" transform="translate(612.1 1078.0) scale(0.96 1)" text-anchor="middle">0</text>
<text class="tk" transform="translate(803.6 1078.0) scale(0.96 1)" text-anchor="middle">2</text>
<text class="tk" transform="translate(995.0 1078.0) scale(0.96 1)" text-anchor="middle">4</text>
<text class="tk" transform="translate(1186.4 1078.0) scale(0.96 1)" text-anchor="middle">6</text>
<text class="tk" transform="translate(1377.9 1078.0) scale(0.96 1)" text-anchor="middle">8</text>
<text class="tk" transform="translate(1569.3 1078.0) scale(0.96 1)" text-anchor="middle">10</text>
<text class="tk" transform="translate(1760.7 1078.0) scale(0.96 1)" text-anchor="middle">12</text>
<text class="tk" transform="translate(1952.1 1078.0) scale(0.96 1)" text-anchor="middle">14</text>
<text class="tk" transform="translate(400.5 171.0) scale(0.96 1)" text-anchor="end">1.2</text>
<text class="tk" transform="translate(400.5 324.3) scale(0.96 1)" text-anchor="end">0.8</text>
<text class="tk" transform="translate(400.5 477.5) scale(0.96 1)" text-anchor="end">0.4</text>
<text class="tk" transform="translate(400.5 630.8) scale(0.96 1)" text-anchor="end">0</text>
<text class="tk" transform="translate(400.5 784.0) scale(0.96 1)" text-anchor="end">-0.4</text>
<text class="tk" transform="translate(400.5 937.3) scale(0.96 1)" text-anchor="end">-0.8</text>
<text class="tk" transform="translate(421.3 90.3) scale(1.0 1)" text-anchor="start" style="font-size:71px;font-family:&quot;DejaVu Sans&quot;,sans-serif;font-weight:200;stroke:#262626;stroke-width:0.9px;stroke-linejoin:round">×</text>
<text class="tk" transform="translate(484.0 87.4) scale(0.96 1)" text-anchor="start">10</text>
<text class="tk" transform="translate(566.5 50.5) scale(0.96 1)" text-anchor="start" style="font-size:61px">-7</text>
<rect x="1531.88" y="1068.97" width="13.80" height="10.33" fill="#fff"/><rect x="1555.95" y="1068.97" width="12.94" height="10.33" fill="#fff"/>
<rect x="1723.31" y="1068.97" width="13.80" height="10.33" fill="#fff"/><rect x="1747.38" y="1068.97" width="12.94" height="10.33" fill="#fff"/>
<rect x="1914.74" y="1068.97" width="13.80" height="10.33" fill="#fff"/><rect x="1938.81" y="1068.97" width="12.94" height="10.33" fill="#fff"/>
<rect x="302.49" y="161.97" width="13.80" height="10.33" fill="#fff"/><rect x="326.56" y="161.97" width="12.94" height="10.33" fill="#fff"/>
<rect x="487.02" y="78.37" width="13.80" height="10.33" fill="#fff"/><rect x="511.08" y="78.37" width="12.94" height="10.33" fill="#fff"/>
<rect x="1331.5" y="119.3" width="653.5" height="235.2" fill="#fff" stroke="#262626" stroke-width="1.5"/>
<line x1="1336" y1="149.8" x2="1391.5" y2="149.8" stroke="#ff7a0c" stroke-width="7.2"/>
<text class="lg" transform="translate(1395.6 167.7) scale(1.031 1)" text-anchor="start">HbO Observation complex</text>
<line x1="1336" y1="207.7" x2="1391.5" y2="207.7" stroke="#000" stroke-width="7.2"/>
<text class="lg" transform="translate(1395.6 225.6) scale(1.031 1)" text-anchor="start">HbR Observation complex</text>
<line x1="1336" y1="265.6" x2="1391.5" y2="265.6" stroke="#ff0000" stroke-width="7.2"/>
<text class="lg" transform="translate(1395.6 283.5) scale(1.031 1)" text-anchor="start">HbO Execution complex</text>
<line x1="1336" y1="323.5" x2="1391.5" y2="323.5" stroke="#0000ff" stroke-width="7.2"/>
<text class="lg" transform="translate(1395.6 341.4) scale(1.031 1)" text-anchor="start">HbR Execution complex</text>
<text class="cap" x="18.8" y="273.8" textLength="227.7" lengthAdjust="spacingAndGlyphs">Right IPL and</text>
<text class="cap" x="6.6" y="324.5" textLength="251.2" lengthAdjust="spacingAndGlyphs">supramarginal</text>
<text class="cap" x="84.5" y="374.5" textLength="96.4" lengthAdjust="spacingAndGlyphs">gyrus</text>
</svg>
</body></html>
